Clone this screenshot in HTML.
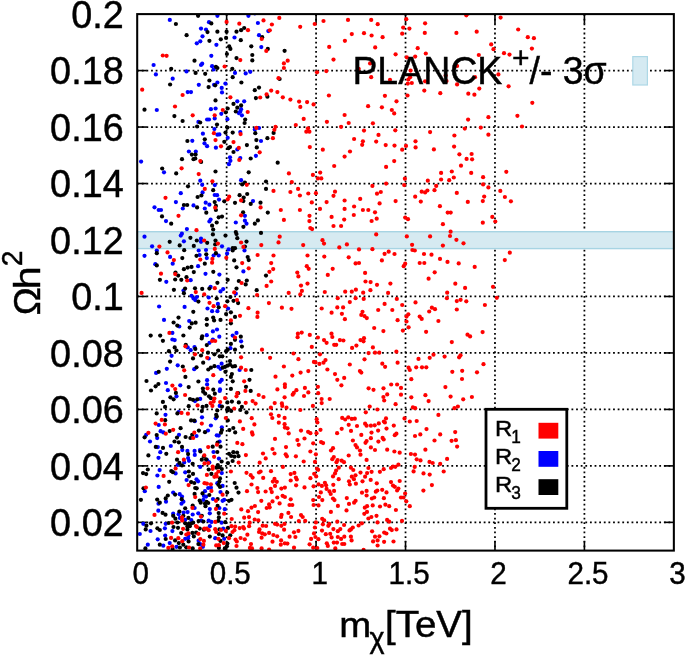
<!DOCTYPE html>
<html><head><meta charset="utf-8"><title>plot</title>
<style>
html,body{margin:0;padding:0;background:#fff;}
body{width:685px;height:655px;overflow:hidden;font-family:"Liberation Sans",sans-serif;}
svg{display:block;will-change:transform;font-family:"Liberation Sans",sans-serif;}
.g{stroke:#000;stroke-width:1.75;stroke-dasharray:1.8 2.82;fill:none}
.t{stroke:#000;stroke-width:1.6;fill:none}
</style></head><body>
<svg width="685" height="655" viewBox="0 0 685 655">
<rect width="685" height="655" fill="#fff"/>

<g class="g">
<line x1="226.64" y1="14.1" x2="226.64" y2="550.6"/>
<line x1="316.08" y1="14.1" x2="316.08" y2="550.6"/>
<line x1="405.53" y1="14.1" x2="405.53" y2="550.6"/>
<line x1="494.97" y1="14.1" x2="494.97" y2="550.6"/>
<line x1="584.41" y1="14.1" x2="584.41" y2="550.6"/>
<line x1="137.2" y1="522.36" x2="673.85" y2="522.36"/>
<line x1="137.2" y1="465.89" x2="673.85" y2="465.89"/>
<line x1="137.2" y1="409.42" x2="673.85" y2="409.42"/>
<line x1="137.2" y1="352.94" x2="673.85" y2="352.94"/>
<line x1="137.2" y1="296.47" x2="673.85" y2="296.47"/>
<line x1="137.2" y1="239.99" x2="673.85" y2="239.99"/>
<line x1="137.2" y1="183.52" x2="673.85" y2="183.52"/>
<line x1="137.2" y1="127.05" x2="673.85" y2="127.05"/>
<line x1="137.2" y1="70.57" x2="673.85" y2="70.57"/>
</g>
<g class="t">
<line x1="226.64" y1="550.6" x2="226.64" y2="541.0"/>
<line x1="226.64" y1="14.1" x2="226.64" y2="23.7"/>
<line x1="316.08" y1="550.6" x2="316.08" y2="541.0"/>
<line x1="316.08" y1="14.1" x2="316.08" y2="23.7"/>
<line x1="405.53" y1="550.6" x2="405.53" y2="541.0"/>
<line x1="405.53" y1="14.1" x2="405.53" y2="23.7"/>
<line x1="494.97" y1="550.6" x2="494.97" y2="541.0"/>
<line x1="494.97" y1="14.1" x2="494.97" y2="23.7"/>
<line x1="584.41" y1="550.6" x2="584.41" y2="541.0"/>
<line x1="584.41" y1="14.1" x2="584.41" y2="23.7"/>
<line x1="137.2" y1="522.36" x2="146.79999999999998" y2="522.36"/>
<line x1="673.85" y1="522.36" x2="664.25" y2="522.36"/>
<line x1="137.2" y1="465.89" x2="146.79999999999998" y2="465.89"/>
<line x1="673.85" y1="465.89" x2="664.25" y2="465.89"/>
<line x1="137.2" y1="409.42" x2="146.79999999999998" y2="409.42"/>
<line x1="673.85" y1="409.42" x2="664.25" y2="409.42"/>
<line x1="137.2" y1="352.94" x2="146.79999999999998" y2="352.94"/>
<line x1="673.85" y1="352.94" x2="664.25" y2="352.94"/>
<line x1="137.2" y1="296.47" x2="146.79999999999998" y2="296.47"/>
<line x1="673.85" y1="296.47" x2="664.25" y2="296.47"/>
<line x1="137.2" y1="239.99" x2="146.79999999999998" y2="239.99"/>
<line x1="673.85" y1="239.99" x2="664.25" y2="239.99"/>
<line x1="137.2" y1="183.52" x2="146.79999999999998" y2="183.52"/>
<line x1="673.85" y1="183.52" x2="664.25" y2="183.52"/>
<line x1="137.2" y1="127.05" x2="146.79999999999998" y2="127.05"/>
<line x1="673.85" y1="127.05" x2="664.25" y2="127.05"/>
<line x1="137.2" y1="70.57" x2="146.79999999999998" y2="70.57"/>
<line x1="673.85" y1="70.57" x2="664.25" y2="70.57"/>
</g>
<rect x="137.2" y="231.7" width="536.7" height="16.9" fill="#d6eaf1" stroke="#a7d4e3" stroke-width="1.4"/>
<clipPath id="cp"><rect x="137.2" y="14.1" width="536.7" height="536.5"/></clipPath>
<g id="pts" clip-path="url(#cp)">
<g fill="#0000ff">
<circle cx="169.8" cy="19.9" r="2.1"/>
<circle cx="217.4" cy="15.8" r="2.1"/>
<circle cx="209.0" cy="22.2" r="2.1"/>
<circle cx="201.0" cy="28.6" r="2.1"/>
<circle cx="206.0" cy="29.5" r="2.1"/>
<circle cx="202.5" cy="36.3" r="2.1"/>
<circle cx="200.3" cy="41.3" r="2.1"/>
<circle cx="196.8" cy="43.3" r="2.1"/>
<circle cx="216.4" cy="44.8" r="2.1"/>
<circle cx="211.3" cy="55.8" r="2.1"/>
<circle cx="202.2" cy="63.7" r="2.1"/>
<circle cx="201.0" cy="65.0" r="2.1"/>
<circle cx="153.6" cy="65.0" r="2.1"/>
<circle cx="212.1" cy="66.2" r="2.1"/>
<circle cx="213.6" cy="69.5" r="2.1"/>
<circle cx="186.5" cy="71.4" r="2.1"/>
<circle cx="155.9" cy="74.4" r="2.1"/>
<circle cx="172.7" cy="78.7" r="2.1"/>
<circle cx="198.8" cy="84.8" r="2.1"/>
<circle cx="217.4" cy="82.5" r="2.1"/>
<circle cx="214.1" cy="84.8" r="2.1"/>
<circle cx="225.4" cy="83.6" r="2.1"/>
<circle cx="221.7" cy="87.9" r="2.1"/>
<circle cx="222.0" cy="92.4" r="2.1"/>
<circle cx="187.7" cy="92.1" r="2.1"/>
<circle cx="191.0" cy="92.1" r="2.1"/>
<circle cx="210.9" cy="109.2" r="2.1"/>
<circle cx="215.6" cy="108.5" r="2.1"/>
<circle cx="156.8" cy="110.0" r="2.1"/>
<circle cx="234.5" cy="37.5" r="2.1"/>
<circle cx="235.0" cy="72.9" r="2.1"/>
<circle cx="254.8" cy="13.4" r="2.1"/>
<circle cx="248.4" cy="15.8" r="2.1"/>
<circle cx="257.9" cy="23.0" r="2.1"/>
<circle cx="268.3" cy="31.1" r="2.1"/>
<circle cx="259.0" cy="35.2" r="2.1"/>
<circle cx="261.3" cy="47.1" r="2.1"/>
<circle cx="245.7" cy="73.4" r="2.1"/>
<circle cx="250.3" cy="71.8" r="2.1"/>
<circle cx="237.3" cy="101.3" r="2.1"/>
<circle cx="244.2" cy="101.3" r="2.1"/>
<circle cx="241.1" cy="109.2" r="2.1"/>
<circle cx="221.3" cy="113.8" r="2.1"/>
<circle cx="207.1" cy="119.5" r="2.1"/>
<circle cx="209.0" cy="119.5" r="2.1"/>
<circle cx="198.4" cy="121.9" r="2.1"/>
<circle cx="214.7" cy="118.4" r="2.1"/>
<circle cx="227.4" cy="119.2" r="2.1"/>
<circle cx="214.4" cy="129.1" r="2.1"/>
<circle cx="202.9" cy="133.7" r="2.1"/>
<circle cx="217.4" cy="134.7" r="2.1"/>
<circle cx="219.4" cy="134.4" r="2.1"/>
<circle cx="227.7" cy="137.8" r="2.1"/>
<circle cx="192.3" cy="140.8" r="2.1"/>
<circle cx="204.5" cy="143.3" r="2.1"/>
<circle cx="207.1" cy="146.2" r="2.1"/>
<circle cx="215.9" cy="147.7" r="2.1"/>
<circle cx="188.9" cy="151.5" r="2.1"/>
<circle cx="195.8" cy="151.5" r="2.1"/>
<circle cx="141.1" cy="161.6" r="2.1"/>
<circle cx="230.0" cy="157.3" r="2.1"/>
<circle cx="230.4" cy="160.8" r="2.1"/>
<circle cx="228.9" cy="164.2" r="2.1"/>
<circle cx="164.0" cy="172.3" r="2.1"/>
<circle cx="200.3" cy="180.7" r="2.1"/>
<circle cx="202.2" cy="184.8" r="2.1"/>
<circle cx="214.8" cy="185.1" r="2.1"/>
<circle cx="180.8" cy="193.2" r="2.1"/>
<circle cx="202.6" cy="192.4" r="2.1"/>
<circle cx="214.7" cy="195.0" r="2.1"/>
<circle cx="217.1" cy="195.2" r="2.1"/>
<circle cx="219.0" cy="199.6" r="2.1"/>
<circle cx="175.9" cy="202.1" r="2.1"/>
<circle cx="205.7" cy="202.7" r="2.1"/>
<circle cx="209.4" cy="204.7" r="2.1"/>
<circle cx="193.5" cy="205.4" r="2.1"/>
<circle cx="154.5" cy="207.3" r="2.1"/>
<circle cx="182.8" cy="208.5" r="2.1"/>
<circle cx="204.8" cy="208.5" r="2.1"/>
<circle cx="158.7" cy="210.0" r="2.1"/>
<circle cx="161.0" cy="210.0" r="2.1"/>
<circle cx="240.3" cy="111.5" r="2.1"/>
<circle cx="241.9" cy="115.3" r="2.1"/>
<circle cx="238.8" cy="113.1" r="2.1"/>
<circle cx="259.0" cy="128.0" r="2.1"/>
<circle cx="254.8" cy="129.4" r="2.1"/>
<circle cx="240.3" cy="132.1" r="2.1"/>
<circle cx="261.0" cy="141.0" r="2.1"/>
<circle cx="237.3" cy="149.4" r="2.1"/>
<circle cx="255.9" cy="155.8" r="2.1"/>
<circle cx="240.3" cy="158.1" r="2.1"/>
<circle cx="241.1" cy="180.2" r="2.1"/>
<circle cx="253.0" cy="201.1" r="2.1"/>
<circle cx="166.0" cy="221.1" r="2.1"/>
<circle cx="210.6" cy="219.6" r="2.1"/>
<circle cx="209.4" cy="221.5" r="2.1"/>
<circle cx="186.9" cy="229.1" r="2.1"/>
<circle cx="144.5" cy="236.7" r="2.1"/>
<circle cx="181.9" cy="233.7" r="2.1"/>
<circle cx="180.8" cy="235.6" r="2.1"/>
<circle cx="183.9" cy="241.3" r="2.1"/>
<circle cx="201.0" cy="238.7" r="2.1"/>
<circle cx="201.0" cy="241.8" r="2.1"/>
<circle cx="152.1" cy="246.3" r="2.1"/>
<circle cx="156.8" cy="250.5" r="2.1"/>
<circle cx="144.5" cy="255.8" r="2.1"/>
<circle cx="222.0" cy="246.3" r="2.1"/>
<circle cx="206.0" cy="250.0" r="2.1"/>
<circle cx="198.7" cy="250.5" r="2.1"/>
<circle cx="228.6" cy="249.4" r="2.1"/>
<circle cx="227.1" cy="253.5" r="2.1"/>
<circle cx="199.6" cy="255.0" r="2.1"/>
<circle cx="206.8" cy="258.1" r="2.1"/>
<circle cx="170.1" cy="256.9" r="2.1"/>
<circle cx="213.6" cy="255.5" r="2.1"/>
<circle cx="218.7" cy="255.5" r="2.1"/>
<circle cx="172.7" cy="263.7" r="2.1"/>
<circle cx="155.3" cy="264.2" r="2.1"/>
<circle cx="198.1" cy="266.2" r="2.1"/>
<circle cx="205.5" cy="273.8" r="2.1"/>
<circle cx="219.4" cy="274.6" r="2.1"/>
<circle cx="166.3" cy="281.8" r="2.1"/>
<circle cx="190.7" cy="280.2" r="2.1"/>
<circle cx="210.6" cy="286.8" r="2.1"/>
<circle cx="223.2" cy="289.1" r="2.1"/>
<circle cx="220.5" cy="291.4" r="2.1"/>
<circle cx="183.5" cy="290.6" r="2.1"/>
<circle cx="191.5" cy="295.8" r="2.1"/>
<circle cx="196.8" cy="297.0" r="2.1"/>
<circle cx="193.5" cy="298.5" r="2.1"/>
<circle cx="195.3" cy="300.1" r="2.1"/>
<circle cx="208.7" cy="297.5" r="2.1"/>
<circle cx="217.9" cy="303.9" r="2.1"/>
<circle cx="159.1" cy="306.5" r="2.1"/>
<circle cx="184.6" cy="306.9" r="2.1"/>
<circle cx="207.5" cy="308.5" r="2.1"/>
<circle cx="228.1" cy="308.5" r="2.1"/>
<circle cx="244.9" cy="215.8" r="2.1"/>
<circle cx="244.9" cy="220.7" r="2.1"/>
<circle cx="246.5" cy="223.7" r="2.1"/>
<circle cx="235.8" cy="222.5" r="2.1"/>
<circle cx="244.5" cy="250.5" r="2.1"/>
<circle cx="243.4" cy="271.4" r="2.1"/>
<circle cx="235.8" cy="293.7" r="2.1"/>
<circle cx="164.0" cy="319.9" r="2.1"/>
<circle cx="189.2" cy="321.0" r="2.1"/>
<circle cx="179.3" cy="326.5" r="2.1"/>
<circle cx="212.1" cy="311.2" r="2.1"/>
<circle cx="217.4" cy="311.2" r="2.1"/>
<circle cx="172.4" cy="332.9" r="2.1"/>
<circle cx="217.0" cy="329.5" r="2.1"/>
<circle cx="212.9" cy="331.4" r="2.1"/>
<circle cx="206.8" cy="335.2" r="2.1"/>
<circle cx="219.3" cy="336.7" r="2.1"/>
<circle cx="232.7" cy="335.6" r="2.1"/>
<circle cx="172.4" cy="339.5" r="2.1"/>
<circle cx="174.7" cy="340.1" r="2.1"/>
<circle cx="212.9" cy="339.5" r="2.1"/>
<circle cx="209.5" cy="342.8" r="2.1"/>
<circle cx="187.7" cy="347.4" r="2.1"/>
<circle cx="194.5" cy="347.1" r="2.1"/>
<circle cx="190.7" cy="350.2" r="2.1"/>
<circle cx="230.4" cy="348.2" r="2.1"/>
<circle cx="171.6" cy="355.8" r="2.1"/>
<circle cx="208.7" cy="358.5" r="2.1"/>
<circle cx="177.7" cy="365.3" r="2.1"/>
<circle cx="166.8" cy="368.8" r="2.1"/>
<circle cx="194.2" cy="369.2" r="2.1"/>
<circle cx="221.6" cy="363.7" r="2.1"/>
<circle cx="218.2" cy="366.8" r="2.1"/>
<circle cx="220.5" cy="368.8" r="2.1"/>
<circle cx="156.1" cy="372.9" r="2.1"/>
<circle cx="207.1" cy="380.2" r="2.1"/>
<circle cx="221.7" cy="379.9" r="2.1"/>
<circle cx="220.0" cy="381.8" r="2.1"/>
<circle cx="207.1" cy="384.4" r="2.1"/>
<circle cx="166.0" cy="383.0" r="2.1"/>
<circle cx="180.3" cy="385.3" r="2.1"/>
<circle cx="167.8" cy="390.2" r="2.1"/>
<circle cx="220.0" cy="389.4" r="2.1"/>
<circle cx="219.7" cy="390.9" r="2.1"/>
<circle cx="176.5" cy="396.3" r="2.1"/>
<circle cx="200.2" cy="398.9" r="2.1"/>
<circle cx="195.0" cy="401.1" r="2.1"/>
<circle cx="219.7" cy="405.9" r="2.1"/>
<circle cx="236.5" cy="332.9" r="2.1"/>
<circle cx="241.1" cy="341.3" r="2.1"/>
<circle cx="239.6" cy="370.0" r="2.1"/>
<circle cx="165.5" cy="414.8" r="2.1"/>
<circle cx="178.6" cy="412.1" r="2.1"/>
<circle cx="202.0" cy="417.3" r="2.1"/>
<circle cx="194.8" cy="421.2" r="2.1"/>
<circle cx="158.7" cy="425.0" r="2.1"/>
<circle cx="160.6" cy="431.2" r="2.1"/>
<circle cx="163.3" cy="432.4" r="2.1"/>
<circle cx="146.2" cy="434.8" r="2.1"/>
<circle cx="179.0" cy="434.8" r="2.1"/>
<circle cx="196.5" cy="436.0" r="2.1"/>
<circle cx="157.2" cy="438.1" r="2.1"/>
<circle cx="150.0" cy="441.5" r="2.1"/>
<circle cx="170.8" cy="446.0" r="2.1"/>
<circle cx="157.8" cy="447.1" r="2.1"/>
<circle cx="182.3" cy="450.1" r="2.1"/>
<circle cx="187.4" cy="450.9" r="2.1"/>
<circle cx="194.6" cy="450.9" r="2.1"/>
<circle cx="200.0" cy="450.1" r="2.1"/>
<circle cx="160.3" cy="452.2" r="2.1"/>
<circle cx="194.8" cy="454.9" r="2.1"/>
<circle cx="158.5" cy="457.8" r="2.1"/>
<circle cx="188.1" cy="458.1" r="2.1"/>
<circle cx="189.0" cy="460.8" r="2.1"/>
<circle cx="184.2" cy="462.4" r="2.1"/>
<circle cx="177.7" cy="465.0" r="2.1"/>
<circle cx="200.2" cy="466.9" r="2.1"/>
<circle cx="159.6" cy="470.1" r="2.1"/>
<circle cx="185.2" cy="472.3" r="2.1"/>
<circle cx="175.6" cy="473.4" r="2.1"/>
<circle cx="157.4" cy="475.5" r="2.1"/>
<circle cx="196.5" cy="479.3" r="2.1"/>
<circle cx="186.6" cy="480.0" r="2.1"/>
<circle cx="215.7" cy="418.3" r="2.1"/>
<circle cx="210.9" cy="425.5" r="2.1"/>
<circle cx="221.8" cy="427.3" r="2.1"/>
<circle cx="208.0" cy="430.5" r="2.1"/>
<circle cx="216.8" cy="435.3" r="2.1"/>
<circle cx="218.7" cy="435.6" r="2.1"/>
<circle cx="219.6" cy="441.5" r="2.1"/>
<circle cx="213.5" cy="452.0" r="2.1"/>
<circle cx="218.9" cy="458.6" r="2.1"/>
<circle cx="209.3" cy="462.4" r="2.1"/>
<circle cx="221.8" cy="473.1" r="2.1"/>
<circle cx="207.1" cy="460.2" r="2.1"/>
<circle cx="198.1" cy="481.3" r="2.1"/>
<circle cx="158.7" cy="486.9" r="2.1"/>
<circle cx="144.8" cy="491.2" r="2.1"/>
<circle cx="173.2" cy="492.6" r="2.1"/>
<circle cx="179.7" cy="494.2" r="2.1"/>
<circle cx="182.0" cy="496.6" r="2.1"/>
<circle cx="166.0" cy="501.7" r="2.1"/>
<circle cx="183.4" cy="501.7" r="2.1"/>
<circle cx="181.5" cy="503.7" r="2.1"/>
<circle cx="158.5" cy="503.7" r="2.1"/>
<circle cx="203.9" cy="496.0" r="2.1"/>
<circle cx="203.4" cy="499.8" r="2.1"/>
<circle cx="194.6" cy="508.0" r="2.1"/>
<circle cx="158.3" cy="510.7" r="2.1"/>
<circle cx="173.2" cy="513.7" r="2.1"/>
<circle cx="178.6" cy="514.2" r="2.1"/>
<circle cx="183.6" cy="512.6" r="2.1"/>
<circle cx="187.6" cy="512.1" r="2.1"/>
<circle cx="192.7" cy="514.5" r="2.1"/>
<circle cx="198.3" cy="513.3" r="2.1"/>
<circle cx="179.9" cy="517.9" r="2.1"/>
<circle cx="185.2" cy="519.8" r="2.1"/>
<circle cx="191.3" cy="520.1" r="2.1"/>
<circle cx="143.3" cy="523.8" r="2.1"/>
<circle cx="165.7" cy="523.8" r="2.1"/>
<circle cx="201.3" cy="520.6" r="2.1"/>
<circle cx="164.9" cy="528.3" r="2.1"/>
<circle cx="150.5" cy="531.0" r="2.1"/>
<circle cx="172.4" cy="531.1" r="2.1"/>
<circle cx="139.8" cy="534.0" r="2.1"/>
<circle cx="165.2" cy="535.6" r="2.1"/>
<circle cx="157.7" cy="539.3" r="2.1"/>
<circle cx="185.2" cy="538.8" r="2.1"/>
<circle cx="188.1" cy="538.2" r="2.1"/>
<circle cx="188.4" cy="535.6" r="2.1"/>
<circle cx="169.7" cy="543.1" r="2.1"/>
<circle cx="147.8" cy="544.7" r="2.1"/>
<circle cx="163.3" cy="545.7" r="2.1"/>
<circle cx="176.5" cy="546.8" r="2.1"/>
<circle cx="198.6" cy="540.7" r="2.1"/>
<circle cx="200.2" cy="544.1" r="2.1"/>
<circle cx="202.9" cy="546.8" r="2.1"/>
<circle cx="217.3" cy="483.2" r="2.1"/>
<circle cx="222.6" cy="485.9" r="2.1"/>
<circle cx="208.2" cy="488.0" r="2.1"/>
<circle cx="210.9" cy="487.7" r="2.1"/>
<circle cx="205.0" cy="491.2" r="2.1"/>
<circle cx="220.5" cy="492.0" r="2.1"/>
<circle cx="206.1" cy="496.6" r="2.1"/>
<circle cx="213.0" cy="499.0" r="2.1"/>
<circle cx="222.6" cy="500.8" r="2.1"/>
<circle cx="224.2" cy="499.8" r="2.1"/>
<circle cx="209.8" cy="509.1" r="2.1"/>
<circle cx="219.4" cy="508.0" r="2.1"/>
<circle cx="224.8" cy="509.2" r="2.1"/>
<circle cx="209.8" cy="513.3" r="2.1"/>
<circle cx="208.7" cy="520.6" r="2.1"/>
<circle cx="211.4" cy="521.9" r="2.1"/>
<circle cx="221.6" cy="522.7" r="2.1"/>
<circle cx="209.8" cy="526.2" r="2.1"/>
<circle cx="223.2" cy="528.6" r="2.1"/>
<circle cx="215.2" cy="538.2" r="2.1"/>
<circle cx="224.2" cy="538.8" r="2.1"/>
</g>
<g fill="#000000">
<circle cx="198.1" cy="15.8" r="2.1"/>
<circle cx="175.9" cy="24.0" r="2.1"/>
<circle cx="211.3" cy="23.4" r="2.1"/>
<circle cx="207.5" cy="32.1" r="2.1"/>
<circle cx="217.4" cy="31.7" r="2.1"/>
<circle cx="226.6" cy="31.7" r="2.1"/>
<circle cx="186.6" cy="35.2" r="2.1"/>
<circle cx="209.4" cy="40.8" r="2.1"/>
<circle cx="220.8" cy="39.3" r="2.1"/>
<circle cx="226.1" cy="37.9" r="2.1"/>
<circle cx="229.2" cy="46.3" r="2.1"/>
<circle cx="230.4" cy="48.9" r="2.1"/>
<circle cx="226.9" cy="54.0" r="2.1"/>
<circle cx="194.5" cy="60.7" r="2.1"/>
<circle cx="215.9" cy="66.8" r="2.1"/>
<circle cx="217.4" cy="68.0" r="2.1"/>
<circle cx="171.2" cy="68.8" r="2.1"/>
<circle cx="195.6" cy="72.9" r="2.1"/>
<circle cx="205.2" cy="73.8" r="2.1"/>
<circle cx="232.3" cy="68.8" r="2.1"/>
<circle cx="232.7" cy="77.2" r="2.1"/>
<circle cx="209.4" cy="80.5" r="2.1"/>
<circle cx="208.6" cy="87.1" r="2.1"/>
<circle cx="215.2" cy="85.3" r="2.1"/>
<circle cx="170.1" cy="84.5" r="2.1"/>
<circle cx="215.5" cy="100.4" r="2.1"/>
<circle cx="144.5" cy="109.7" r="2.1"/>
<circle cx="227.7" cy="108.5" r="2.1"/>
<circle cx="233.5" cy="103.9" r="2.1"/>
<circle cx="244.2" cy="28.0" r="2.1"/>
<circle cx="241.1" cy="30.2" r="2.1"/>
<circle cx="236.5" cy="31.7" r="2.1"/>
<circle cx="240.8" cy="40.2" r="2.1"/>
<circle cx="262.2" cy="37.2" r="2.1"/>
<circle cx="251.3" cy="46.3" r="2.1"/>
<circle cx="267.8" cy="48.9" r="2.1"/>
<circle cx="284.6" cy="50.8" r="2.1"/>
<circle cx="252.3" cy="55.0" r="2.1"/>
<circle cx="236.5" cy="58.1" r="2.1"/>
<circle cx="252.3" cy="60.4" r="2.1"/>
<circle cx="241.4" cy="82.5" r="2.1"/>
<circle cx="279.6" cy="79.0" r="2.1"/>
<circle cx="259.0" cy="87.6" r="2.1"/>
<circle cx="254.8" cy="90.2" r="2.1"/>
<circle cx="255.9" cy="98.1" r="2.1"/>
<circle cx="267.4" cy="96.7" r="2.1"/>
<circle cx="241.1" cy="105.4" r="2.1"/>
<circle cx="237.3" cy="107.7" r="2.1"/>
<circle cx="174.4" cy="116.1" r="2.1"/>
<circle cx="225.8" cy="112.3" r="2.1"/>
<circle cx="182.6" cy="121.0" r="2.1"/>
<circle cx="200.2" cy="122.5" r="2.1"/>
<circle cx="197.1" cy="126.5" r="2.1"/>
<circle cx="217.0" cy="124.5" r="2.1"/>
<circle cx="227.4" cy="127.6" r="2.1"/>
<circle cx="225.5" cy="132.6" r="2.1"/>
<circle cx="232.7" cy="132.6" r="2.1"/>
<circle cx="204.8" cy="139.3" r="2.1"/>
<circle cx="187.4" cy="141.0" r="2.1"/>
<circle cx="224.3" cy="141.8" r="2.1"/>
<circle cx="230.0" cy="147.1" r="2.1"/>
<circle cx="228.4" cy="148.2" r="2.1"/>
<circle cx="233.5" cy="152.0" r="2.1"/>
<circle cx="191.9" cy="154.6" r="2.1"/>
<circle cx="195.6" cy="154.6" r="2.1"/>
<circle cx="193.5" cy="159.2" r="2.1"/>
<circle cx="195.3" cy="158.5" r="2.1"/>
<circle cx="182.0" cy="159.2" r="2.1"/>
<circle cx="201.1" cy="161.9" r="2.1"/>
<circle cx="162.2" cy="168.5" r="2.1"/>
<circle cx="176.2" cy="173.4" r="2.1"/>
<circle cx="215.5" cy="171.5" r="2.1"/>
<circle cx="188.0" cy="186.3" r="2.1"/>
<circle cx="213.2" cy="190.2" r="2.1"/>
<circle cx="201.4" cy="195.5" r="2.1"/>
<circle cx="197.6" cy="197.0" r="2.1"/>
<circle cx="214.7" cy="202.1" r="2.1"/>
<circle cx="224.3" cy="201.3" r="2.1"/>
<circle cx="183.9" cy="205.0" r="2.1"/>
<circle cx="187.2" cy="205.0" r="2.1"/>
<circle cx="197.1" cy="207.4" r="2.1"/>
<circle cx="215.9" cy="205.9" r="2.1"/>
<circle cx="235.0" cy="202.8" r="2.1"/>
<circle cx="235.8" cy="111.5" r="2.1"/>
<circle cx="245.2" cy="119.5" r="2.1"/>
<circle cx="244.6" cy="123.0" r="2.1"/>
<circle cx="255.3" cy="133.2" r="2.1"/>
<circle cx="273.6" cy="132.9" r="2.1"/>
<circle cx="267.4" cy="138.2" r="2.1"/>
<circle cx="256.4" cy="140.1" r="2.1"/>
<circle cx="246.9" cy="145.1" r="2.1"/>
<circle cx="256.8" cy="147.4" r="2.1"/>
<circle cx="250.7" cy="158.5" r="2.1"/>
<circle cx="277.7" cy="162.7" r="2.1"/>
<circle cx="248.7" cy="172.3" r="2.1"/>
<circle cx="244.9" cy="182.5" r="2.1"/>
<circle cx="242.2" cy="184.4" r="2.1"/>
<circle cx="266.0" cy="181.5" r="2.1"/>
<circle cx="266.0" cy="188.9" r="2.1"/>
<circle cx="247.2" cy="194.0" r="2.1"/>
<circle cx="239.6" cy="195.2" r="2.1"/>
<circle cx="243.7" cy="197.5" r="2.1"/>
<circle cx="243.4" cy="201.1" r="2.1"/>
<circle cx="250.7" cy="203.9" r="2.1"/>
<circle cx="260.5" cy="202.7" r="2.1"/>
<circle cx="215.9" cy="210.0" r="2.1"/>
<circle cx="206.3" cy="212.7" r="2.1"/>
<circle cx="162.0" cy="216.4" r="2.1"/>
<circle cx="222.0" cy="216.6" r="2.1"/>
<circle cx="218.7" cy="217.3" r="2.1"/>
<circle cx="171.2" cy="223.7" r="2.1"/>
<circle cx="216.7" cy="222.5" r="2.1"/>
<circle cx="212.1" cy="225.7" r="2.1"/>
<circle cx="213.2" cy="229.5" r="2.1"/>
<circle cx="212.9" cy="234.4" r="2.1"/>
<circle cx="225.5" cy="235.6" r="2.1"/>
<circle cx="190.4" cy="237.8" r="2.1"/>
<circle cx="196.8" cy="240.5" r="2.1"/>
<circle cx="215.5" cy="240.5" r="2.1"/>
<circle cx="169.7" cy="241.8" r="2.1"/>
<circle cx="207.2" cy="242.8" r="2.1"/>
<circle cx="179.7" cy="245.4" r="2.1"/>
<circle cx="193.8" cy="245.9" r="2.1"/>
<circle cx="215.2" cy="244.4" r="2.1"/>
<circle cx="184.2" cy="250.2" r="2.1"/>
<circle cx="232.7" cy="250.5" r="2.1"/>
<circle cx="156.8" cy="253.2" r="2.1"/>
<circle cx="206.3" cy="254.3" r="2.1"/>
<circle cx="215.9" cy="253.2" r="2.1"/>
<circle cx="196.5" cy="255.8" r="2.1"/>
<circle cx="182.3" cy="258.1" r="2.1"/>
<circle cx="234.2" cy="260.4" r="2.1"/>
<circle cx="204.8" cy="263.7" r="2.1"/>
<circle cx="156.8" cy="265.4" r="2.1"/>
<circle cx="187.7" cy="267.6" r="2.1"/>
<circle cx="191.5" cy="266.9" r="2.1"/>
<circle cx="183.9" cy="269.2" r="2.1"/>
<circle cx="175.5" cy="272.6" r="2.1"/>
<circle cx="193.8" cy="272.1" r="2.1"/>
<circle cx="213.3" cy="271.8" r="2.1"/>
<circle cx="178.2" cy="275.6" r="2.1"/>
<circle cx="186.5" cy="277.2" r="2.1"/>
<circle cx="159.9" cy="279.8" r="2.1"/>
<circle cx="175.2" cy="279.5" r="2.1"/>
<circle cx="181.3" cy="279.8" r="2.1"/>
<circle cx="227.7" cy="279.8" r="2.1"/>
<circle cx="217.4" cy="282.8" r="2.1"/>
<circle cx="185.1" cy="288.6" r="2.1"/>
<circle cx="195.0" cy="288.3" r="2.1"/>
<circle cx="202.2" cy="288.9" r="2.1"/>
<circle cx="209.4" cy="288.6" r="2.1"/>
<circle cx="173.9" cy="289.8" r="2.1"/>
<circle cx="183.9" cy="293.2" r="2.1"/>
<circle cx="216.7" cy="298.5" r="2.1"/>
<circle cx="198.4" cy="301.6" r="2.1"/>
<circle cx="230.4" cy="297.0" r="2.1"/>
<circle cx="227.4" cy="301.3" r="2.1"/>
<circle cx="233.5" cy="300.8" r="2.1"/>
<circle cx="218.7" cy="307.3" r="2.1"/>
<circle cx="232.7" cy="248.2" r="2.1"/>
<circle cx="243.1" cy="212.3" r="2.1"/>
<circle cx="267.8" cy="212.6" r="2.1"/>
<circle cx="257.9" cy="220.4" r="2.1"/>
<circle cx="254.8" cy="223.7" r="2.1"/>
<circle cx="243.4" cy="226.8" r="2.1"/>
<circle cx="235.8" cy="232.1" r="2.1"/>
<circle cx="236.5" cy="234.1" r="2.1"/>
<circle cx="261.0" cy="232.9" r="2.1"/>
<circle cx="237.3" cy="238.2" r="2.1"/>
<circle cx="246.5" cy="241.6" r="2.1"/>
<circle cx="244.9" cy="246.6" r="2.1"/>
<circle cx="235.0" cy="248.2" r="2.1"/>
<circle cx="247.7" cy="257.0" r="2.1"/>
<circle cx="248.7" cy="260.1" r="2.1"/>
<circle cx="236.5" cy="267.3" r="2.1"/>
<circle cx="266.0" cy="275.6" r="2.1"/>
<circle cx="238.8" cy="281.0" r="2.1"/>
<circle cx="246.8" cy="280.5" r="2.1"/>
<circle cx="245.7" cy="284.4" r="2.1"/>
<circle cx="236.5" cy="288.6" r="2.1"/>
<circle cx="256.7" cy="290.2" r="2.1"/>
<circle cx="238.1" cy="303.1" r="2.1"/>
<circle cx="193.3" cy="311.8" r="2.1"/>
<circle cx="178.5" cy="317.6" r="2.1"/>
<circle cx="173.6" cy="322.5" r="2.1"/>
<circle cx="177.3" cy="325.6" r="2.1"/>
<circle cx="191.8" cy="323.4" r="2.1"/>
<circle cx="195.6" cy="322.7" r="2.1"/>
<circle cx="189.7" cy="327.6" r="2.1"/>
<circle cx="206.8" cy="319.2" r="2.1"/>
<circle cx="206.8" cy="324.8" r="2.1"/>
<circle cx="213.2" cy="317.6" r="2.1"/>
<circle cx="214.1" cy="320.4" r="2.1"/>
<circle cx="220.5" cy="319.9" r="2.1"/>
<circle cx="226.1" cy="314.1" r="2.1"/>
<circle cx="230.9" cy="312.3" r="2.1"/>
<circle cx="230.9" cy="323.3" r="2.1"/>
<circle cx="235.0" cy="316.9" r="2.1"/>
<circle cx="150.7" cy="335.6" r="2.1"/>
<circle cx="160.2" cy="335.6" r="2.1"/>
<circle cx="183.4" cy="335.5" r="2.1"/>
<circle cx="162.9" cy="340.8" r="2.1"/>
<circle cx="202.2" cy="336.3" r="2.1"/>
<circle cx="201.7" cy="338.5" r="2.1"/>
<circle cx="185.8" cy="344.8" r="2.1"/>
<circle cx="206.8" cy="345.1" r="2.1"/>
<circle cx="230.9" cy="343.9" r="2.1"/>
<circle cx="174.7" cy="347.4" r="2.1"/>
<circle cx="176.5" cy="350.5" r="2.1"/>
<circle cx="168.9" cy="351.2" r="2.1"/>
<circle cx="195.3" cy="348.9" r="2.1"/>
<circle cx="218.2" cy="350.5" r="2.1"/>
<circle cx="226.1" cy="351.2" r="2.1"/>
<circle cx="227.7" cy="349.7" r="2.1"/>
<circle cx="208.0" cy="352.7" r="2.1"/>
<circle cx="201.0" cy="355.5" r="2.1"/>
<circle cx="214.4" cy="354.3" r="2.1"/>
<circle cx="219.7" cy="356.3" r="2.1"/>
<circle cx="222.3" cy="356.3" r="2.1"/>
<circle cx="193.0" cy="358.4" r="2.1"/>
<circle cx="170.1" cy="361.6" r="2.1"/>
<circle cx="203.2" cy="362.7" r="2.1"/>
<circle cx="230.0" cy="361.1" r="2.1"/>
<circle cx="182.8" cy="366.5" r="2.1"/>
<circle cx="196.5" cy="367.3" r="2.1"/>
<circle cx="208.3" cy="369.5" r="2.1"/>
<circle cx="210.9" cy="367.7" r="2.1"/>
<circle cx="214.4" cy="366.2" r="2.1"/>
<circle cx="222.8" cy="367.7" r="2.1"/>
<circle cx="225.1" cy="366.8" r="2.1"/>
<circle cx="227.4" cy="365.7" r="2.1"/>
<circle cx="230.0" cy="364.7" r="2.1"/>
<circle cx="232.7" cy="366.5" r="2.1"/>
<circle cx="225.4" cy="371.8" r="2.1"/>
<circle cx="231.9" cy="374.1" r="2.1"/>
<circle cx="230.9" cy="376.9" r="2.1"/>
<circle cx="158.7" cy="371.8" r="2.1"/>
<circle cx="185.4" cy="376.9" r="2.1"/>
<circle cx="146.5" cy="381.0" r="2.1"/>
<circle cx="198.4" cy="381.5" r="2.1"/>
<circle cx="232.7" cy="381.3" r="2.1"/>
<circle cx="158.4" cy="384.0" r="2.1"/>
<circle cx="155.6" cy="386.3" r="2.1"/>
<circle cx="188.7" cy="387.1" r="2.1"/>
<circle cx="151.0" cy="390.5" r="2.1"/>
<circle cx="202.9" cy="388.6" r="2.1"/>
<circle cx="213.3" cy="389.7" r="2.1"/>
<circle cx="203.2" cy="391.7" r="2.1"/>
<circle cx="205.2" cy="393.7" r="2.1"/>
<circle cx="214.8" cy="393.7" r="2.1"/>
<circle cx="230.9" cy="388.9" r="2.1"/>
<circle cx="175.9" cy="392.9" r="2.1"/>
<circle cx="170.4" cy="397.3" r="2.1"/>
<circle cx="173.6" cy="399.3" r="2.1"/>
<circle cx="209.0" cy="396.3" r="2.1"/>
<circle cx="210.9" cy="398.2" r="2.1"/>
<circle cx="162.9" cy="401.9" r="2.1"/>
<circle cx="190.0" cy="399.0" r="2.1"/>
<circle cx="193.0" cy="399.8" r="2.1"/>
<circle cx="197.3" cy="399.3" r="2.1"/>
<circle cx="227.4" cy="402.4" r="2.1"/>
<circle cx="231.9" cy="401.6" r="2.1"/>
<circle cx="165.1" cy="406.9" r="2.1"/>
<circle cx="188.7" cy="406.2" r="2.1"/>
<circle cx="202.6" cy="406.9" r="2.1"/>
<circle cx="206.5" cy="405.9" r="2.1"/>
<circle cx="222.0" cy="406.6" r="2.1"/>
<circle cx="228.1" cy="408.2" r="2.1"/>
<circle cx="240.8" cy="336.7" r="2.1"/>
<circle cx="241.9" cy="346.6" r="2.1"/>
<circle cx="235.0" cy="339.8" r="2.1"/>
<circle cx="235.0" cy="349.7" r="2.1"/>
<circle cx="235.0" cy="366.2" r="2.1"/>
<circle cx="251.3" cy="370.0" r="2.1"/>
<circle cx="249.5" cy="379.8" r="2.1"/>
<circle cx="246.0" cy="386.8" r="2.1"/>
<circle cx="250.7" cy="390.9" r="2.1"/>
<circle cx="238.1" cy="393.2" r="2.1"/>
<circle cx="238.8" cy="402.4" r="2.1"/>
<circle cx="241.9" cy="406.9" r="2.1"/>
<circle cx="156.7" cy="413.4" r="2.1"/>
<circle cx="177.4" cy="413.4" r="2.1"/>
<circle cx="201.8" cy="411.1" r="2.1"/>
<circle cx="165.2" cy="420.2" r="2.1"/>
<circle cx="191.1" cy="420.4" r="2.1"/>
<circle cx="194.3" cy="420.7" r="2.1"/>
<circle cx="180.6" cy="428.2" r="2.1"/>
<circle cx="169.7" cy="431.1" r="2.1"/>
<circle cx="198.9" cy="430.6" r="2.1"/>
<circle cx="205.0" cy="432.2" r="2.1"/>
<circle cx="156.7" cy="435.1" r="2.1"/>
<circle cx="144.6" cy="437.3" r="2.1"/>
<circle cx="177.0" cy="437.6" r="2.1"/>
<circle cx="185.6" cy="437.0" r="2.1"/>
<circle cx="192.2" cy="434.8" r="2.1"/>
<circle cx="190.4" cy="438.0" r="2.1"/>
<circle cx="174.5" cy="441.5" r="2.1"/>
<circle cx="178.8" cy="442.3" r="2.1"/>
<circle cx="155.8" cy="446.9" r="2.1"/>
<circle cx="163.0" cy="447.9" r="2.1"/>
<circle cx="182.0" cy="446.9" r="2.1"/>
<circle cx="166.3" cy="453.8" r="2.1"/>
<circle cx="148.4" cy="455.4" r="2.1"/>
<circle cx="188.1" cy="454.1" r="2.1"/>
<circle cx="200.4" cy="451.5" r="2.1"/>
<circle cx="177.0" cy="459.7" r="2.1"/>
<circle cx="201.8" cy="459.7" r="2.1"/>
<circle cx="203.9" cy="456.5" r="2.1"/>
<circle cx="179.4" cy="462.9" r="2.1"/>
<circle cx="182.0" cy="465.4" r="2.1"/>
<circle cx="192.7" cy="463.8" r="2.1"/>
<circle cx="147.8" cy="469.5" r="2.1"/>
<circle cx="143.0" cy="473.1" r="2.1"/>
<circle cx="146.2" cy="474.1" r="2.1"/>
<circle cx="171.3" cy="471.1" r="2.1"/>
<circle cx="172.9" cy="472.2" r="2.1"/>
<circle cx="188.8" cy="471.5" r="2.1"/>
<circle cx="193.0" cy="473.9" r="2.1"/>
<circle cx="189.0" cy="476.3" r="2.1"/>
<circle cx="217.3" cy="410.5" r="2.1"/>
<circle cx="227.4" cy="410.5" r="2.1"/>
<circle cx="231.2" cy="410.9" r="2.1"/>
<circle cx="240.3" cy="410.0" r="2.1"/>
<circle cx="246.5" cy="412.4" r="2.1"/>
<circle cx="216.2" cy="414.8" r="2.1"/>
<circle cx="216.8" cy="416.6" r="2.1"/>
<circle cx="227.8" cy="420.4" r="2.1"/>
<circle cx="233.3" cy="428.0" r="2.1"/>
<circle cx="229.4" cy="430.1" r="2.1"/>
<circle cx="235.2" cy="432.4" r="2.1"/>
<circle cx="221.9" cy="430.0" r="2.1"/>
<circle cx="221.0" cy="432.7" r="2.1"/>
<circle cx="217.6" cy="442.6" r="2.1"/>
<circle cx="212.7" cy="446.7" r="2.1"/>
<circle cx="220.5" cy="446.7" r="2.1"/>
<circle cx="217.3" cy="452.0" r="2.1"/>
<circle cx="233.3" cy="452.2" r="2.1"/>
<circle cx="237.1" cy="452.5" r="2.1"/>
<circle cx="229.0" cy="453.8" r="2.1"/>
<circle cx="231.2" cy="456.0" r="2.1"/>
<circle cx="234.4" cy="456.7" r="2.1"/>
<circle cx="238.5" cy="456.2" r="2.1"/>
<circle cx="232.6" cy="461.0" r="2.1"/>
<circle cx="228.0" cy="463.1" r="2.1"/>
<circle cx="206.1" cy="459.4" r="2.1"/>
<circle cx="221.6" cy="461.5" r="2.1"/>
<circle cx="217.8" cy="465.0" r="2.1"/>
<circle cx="216.5" cy="467.7" r="2.1"/>
<circle cx="218.9" cy="467.2" r="2.1"/>
<circle cx="221.8" cy="469.1" r="2.1"/>
<circle cx="208.7" cy="469.5" r="2.1"/>
<circle cx="211.4" cy="473.9" r="2.1"/>
<circle cx="220.0" cy="478.4" r="2.1"/>
<circle cx="169.2" cy="481.8" r="2.1"/>
<circle cx="191.1" cy="482.1" r="2.1"/>
<circle cx="194.3" cy="483.0" r="2.1"/>
<circle cx="195.2" cy="488.0" r="2.1"/>
<circle cx="196.7" cy="488.3" r="2.1"/>
<circle cx="143.5" cy="488.3" r="2.1"/>
<circle cx="194.6" cy="493.9" r="2.1"/>
<circle cx="202.5" cy="493.4" r="2.1"/>
<circle cx="167.8" cy="495.5" r="2.1"/>
<circle cx="175.1" cy="494.6" r="2.1"/>
<circle cx="165.7" cy="498.4" r="2.1"/>
<circle cx="181.7" cy="499.2" r="2.1"/>
<circle cx="140.9" cy="499.8" r="2.1"/>
<circle cx="157.2" cy="499.6" r="2.1"/>
<circle cx="199.7" cy="500.5" r="2.1"/>
<circle cx="200.7" cy="502.7" r="2.1"/>
<circle cx="159.8" cy="502.7" r="2.1"/>
<circle cx="205.0" cy="503.5" r="2.1"/>
<circle cx="192.7" cy="505.6" r="2.1"/>
<circle cx="185.2" cy="508.3" r="2.1"/>
<circle cx="179.4" cy="511.5" r="2.1"/>
<circle cx="162.6" cy="512.9" r="2.1"/>
<circle cx="165.5" cy="514.7" r="2.1"/>
<circle cx="173.2" cy="515.8" r="2.1"/>
<circle cx="175.4" cy="518.7" r="2.1"/>
<circle cx="183.3" cy="515.8" r="2.1"/>
<circle cx="188.4" cy="517.9" r="2.1"/>
<circle cx="201.8" cy="515.8" r="2.1"/>
<circle cx="203.4" cy="521.5" r="2.1"/>
<circle cx="198.6" cy="521.1" r="2.1"/>
<circle cx="151.0" cy="523.3" r="2.1"/>
<circle cx="168.7" cy="523.0" r="2.1"/>
<circle cx="177.4" cy="522.5" r="2.1"/>
<circle cx="185.2" cy="523.3" r="2.1"/>
<circle cx="188.1" cy="524.1" r="2.1"/>
<circle cx="191.1" cy="523.6" r="2.1"/>
<circle cx="193.2" cy="522.7" r="2.1"/>
<circle cx="146.4" cy="525.7" r="2.1"/>
<circle cx="145.7" cy="529.4" r="2.1"/>
<circle cx="157.4" cy="528.3" r="2.1"/>
<circle cx="159.8" cy="530.0" r="2.1"/>
<circle cx="173.5" cy="527.0" r="2.1"/>
<circle cx="178.0" cy="527.8" r="2.1"/>
<circle cx="187.4" cy="526.5" r="2.1"/>
<circle cx="187.4" cy="529.4" r="2.1"/>
<circle cx="189.8" cy="526.2" r="2.1"/>
<circle cx="199.7" cy="528.6" r="2.1"/>
<circle cx="203.9" cy="529.7" r="2.1"/>
<circle cx="181.2" cy="533.1" r="2.1"/>
<circle cx="192.4" cy="532.9" r="2.1"/>
<circle cx="196.1" cy="532.6" r="2.1"/>
<circle cx="165.7" cy="539.0" r="2.1"/>
<circle cx="175.1" cy="540.4" r="2.1"/>
<circle cx="178.8" cy="543.1" r="2.1"/>
<circle cx="188.6" cy="541.5" r="2.1"/>
<circle cx="193.8" cy="536.4" r="2.1"/>
<circle cx="159.8" cy="544.7" r="2.1"/>
<circle cx="183.3" cy="544.7" r="2.1"/>
<circle cx="179.9" cy="547.5" r="2.1"/>
<circle cx="145.4" cy="548.4" r="2.1"/>
<circle cx="172.6" cy="548.9" r="2.1"/>
<circle cx="192.7" cy="548.4" r="2.1"/>
<circle cx="198.4" cy="544.1" r="2.1"/>
<circle cx="186.3" cy="547.3" r="2.1"/>
<circle cx="219.4" cy="481.6" r="2.1"/>
<circle cx="218.4" cy="484.8" r="2.1"/>
<circle cx="220.0" cy="486.9" r="2.1"/>
<circle cx="234.7" cy="483.0" r="2.1"/>
<circle cx="236.5" cy="487.7" r="2.1"/>
<circle cx="238.5" cy="492.6" r="2.1"/>
<circle cx="227.2" cy="492.6" r="2.1"/>
<circle cx="209.3" cy="495.0" r="2.1"/>
<circle cx="217.6" cy="499.0" r="2.1"/>
<circle cx="231.5" cy="499.8" r="2.1"/>
<circle cx="229.0" cy="500.8" r="2.1"/>
<circle cx="206.6" cy="501.9" r="2.1"/>
<circle cx="208.2" cy="503.0" r="2.1"/>
<circle cx="205.5" cy="506.2" r="2.1"/>
<circle cx="217.6" cy="505.9" r="2.1"/>
<circle cx="218.7" cy="513.1" r="2.1"/>
<circle cx="218.9" cy="517.4" r="2.1"/>
<circle cx="218.4" cy="520.8" r="2.1"/>
<circle cx="225.3" cy="522.2" r="2.1"/>
<circle cx="228.0" cy="527.9" r="2.1"/>
<circle cx="219.4" cy="529.4" r="2.1"/>
<circle cx="218.9" cy="534.0" r="2.1"/>
<circle cx="222.6" cy="535.4" r="2.1"/>
<circle cx="230.3" cy="535.3" r="2.1"/>
<circle cx="209.8" cy="536.6" r="2.1"/>
<circle cx="220.5" cy="540.9" r="2.1"/>
<circle cx="227.4" cy="543.6" r="2.1"/>
<circle cx="226.9" cy="546.3" r="2.1"/>
<circle cx="224.8" cy="548.4" r="2.1"/>
<circle cx="218.9" cy="547.9" r="2.1"/>
</g>
<g fill="#ff0000">
<circle cx="226.6" cy="21.9" r="2.1"/>
<circle cx="162.8" cy="55.5" r="2.1"/>
<circle cx="166.6" cy="55.8" r="2.1"/>
<circle cx="224.6" cy="66.5" r="2.1"/>
<circle cx="142.2" cy="89.7" r="2.1"/>
<circle cx="182.6" cy="95.0" r="2.1"/>
<circle cx="230.4" cy="97.3" r="2.1"/>
<circle cx="175.0" cy="106.5" r="2.1"/>
<circle cx="222.8" cy="110.0" r="2.1"/>
<circle cx="279.3" cy="17.9" r="2.1"/>
<circle cx="263.5" cy="20.4" r="2.1"/>
<circle cx="239.3" cy="23.7" r="2.1"/>
<circle cx="271.9" cy="24.5" r="2.1"/>
<circle cx="248.0" cy="30.2" r="2.1"/>
<circle cx="269.8" cy="30.3" r="2.1"/>
<circle cx="261.7" cy="39.0" r="2.1"/>
<circle cx="266.3" cy="50.9" r="2.1"/>
<circle cx="240.3" cy="60.1" r="2.1"/>
<circle cx="287.7" cy="60.7" r="2.1"/>
<circle cx="283.9" cy="63.4" r="2.1"/>
<circle cx="283.9" cy="68.0" r="2.1"/>
<circle cx="278.5" cy="78.2" r="2.1"/>
<circle cx="271.2" cy="90.6" r="2.1"/>
<circle cx="277.4" cy="92.1" r="2.1"/>
<circle cx="266.6" cy="94.4" r="2.1"/>
<circle cx="260.2" cy="97.5" r="2.1"/>
<circle cx="282.8" cy="97.3" r="2.1"/>
<circle cx="290.4" cy="99.6" r="2.1"/>
<circle cx="299.1" cy="101.6" r="2.1"/>
<circle cx="307.1" cy="102.1" r="2.1"/>
<circle cx="313.6" cy="104.4" r="2.1"/>
<circle cx="300.3" cy="106.9" r="2.1"/>
<circle cx="300.2" cy="26.8" r="2.1"/>
<circle cx="314.7" cy="24.0" r="2.1"/>
<circle cx="323.5" cy="21.0" r="2.1"/>
<circle cx="329.2" cy="46.9" r="2.1"/>
<circle cx="333.5" cy="59.6" r="2.1"/>
<circle cx="317.0" cy="72.3" r="2.1"/>
<circle cx="326.3" cy="71.1" r="2.1"/>
<circle cx="328.9" cy="95.5" r="2.1"/>
<circle cx="348.0" cy="19.9" r="2.1"/>
<circle cx="371.2" cy="19.9" r="2.1"/>
<circle cx="377.7" cy="24.2" r="2.1"/>
<circle cx="406.3" cy="19.2" r="2.1"/>
<circle cx="425.1" cy="23.3" r="2.1"/>
<circle cx="403.2" cy="27.6" r="2.1"/>
<circle cx="409.4" cy="28.6" r="2.1"/>
<circle cx="351.8" cy="34.1" r="2.1"/>
<circle cx="364.0" cy="33.2" r="2.1"/>
<circle cx="371.6" cy="35.5" r="2.1"/>
<circle cx="382.6" cy="37.2" r="2.1"/>
<circle cx="402.2" cy="33.7" r="2.1"/>
<circle cx="424.8" cy="32.9" r="2.1"/>
<circle cx="344.9" cy="40.8" r="2.1"/>
<circle cx="375.2" cy="47.4" r="2.1"/>
<circle cx="417.7" cy="48.2" r="2.1"/>
<circle cx="395.6" cy="54.3" r="2.1"/>
<circle cx="425.8" cy="53.5" r="2.1"/>
<circle cx="406.8" cy="57.3" r="2.1"/>
<circle cx="415.2" cy="56.6" r="2.1"/>
<circle cx="370.1" cy="63.4" r="2.1"/>
<circle cx="358.7" cy="68.8" r="2.1"/>
<circle cx="371.2" cy="77.2" r="2.1"/>
<circle cx="410.6" cy="70.6" r="2.1"/>
<circle cx="390.0" cy="79.8" r="2.1"/>
<circle cx="410.1" cy="77.2" r="2.1"/>
<circle cx="408.3" cy="79.5" r="2.1"/>
<circle cx="407.8" cy="83.6" r="2.1"/>
<circle cx="411.8" cy="83.0" r="2.1"/>
<circle cx="425.1" cy="81.3" r="2.1"/>
<circle cx="424.3" cy="90.6" r="2.1"/>
<circle cx="384.9" cy="95.8" r="2.1"/>
<circle cx="407.5" cy="95.5" r="2.1"/>
<circle cx="396.5" cy="101.3" r="2.1"/>
<circle cx="368.1" cy="106.2" r="2.1"/>
<circle cx="381.9" cy="107.3" r="2.1"/>
<circle cx="391.8" cy="110.0" r="2.1"/>
<circle cx="466.3" cy="15.3" r="2.1"/>
<circle cx="468.3" cy="13.4" r="2.1"/>
<circle cx="500.6" cy="17.6" r="2.1"/>
<circle cx="456.4" cy="32.9" r="2.1"/>
<circle cx="476.7" cy="31.7" r="2.1"/>
<circle cx="518.2" cy="29.5" r="2.1"/>
<circle cx="527.8" cy="37.2" r="2.1"/>
<circle cx="533.9" cy="38.2" r="2.1"/>
<circle cx="491.2" cy="44.4" r="2.1"/>
<circle cx="493.5" cy="49.2" r="2.1"/>
<circle cx="531.9" cy="48.6" r="2.1"/>
<circle cx="478.8" cy="55.0" r="2.1"/>
<circle cx="504.0" cy="53.2" r="2.1"/>
<circle cx="509.5" cy="54.6" r="2.1"/>
<circle cx="457.1" cy="66.0" r="2.1"/>
<circle cx="498.4" cy="74.4" r="2.1"/>
<circle cx="445.7" cy="75.6" r="2.1"/>
<circle cx="446.5" cy="81.0" r="2.1"/>
<circle cx="475.0" cy="77.2" r="2.1"/>
<circle cx="457.1" cy="84.4" r="2.1"/>
<circle cx="508.6" cy="86.3" r="2.1"/>
<circle cx="479.3" cy="88.6" r="2.1"/>
<circle cx="440.3" cy="93.2" r="2.1"/>
<circle cx="468.3" cy="93.7" r="2.1"/>
<circle cx="474.4" cy="94.7" r="2.1"/>
<circle cx="532.3" cy="102.8" r="2.1"/>
<circle cx="192.7" cy="115.3" r="2.1"/>
<circle cx="214.7" cy="115.3" r="2.1"/>
<circle cx="213.9" cy="133.2" r="2.1"/>
<circle cx="215.5" cy="140.1" r="2.1"/>
<circle cx="233.5" cy="142.1" r="2.1"/>
<circle cx="221.0" cy="146.3" r="2.1"/>
<circle cx="200.3" cy="161.1" r="2.1"/>
<circle cx="181.6" cy="168.3" r="2.1"/>
<circle cx="198.7" cy="174.1" r="2.1"/>
<circle cx="212.4" cy="181.3" r="2.1"/>
<circle cx="204.8" cy="188.9" r="2.1"/>
<circle cx="165.5" cy="197.8" r="2.1"/>
<circle cx="229.2" cy="196.7" r="2.1"/>
<circle cx="227.7" cy="199.3" r="2.1"/>
<circle cx="215.2" cy="207.7" r="2.1"/>
<circle cx="247.7" cy="112.0" r="2.1"/>
<circle cx="256.4" cy="127.9" r="2.1"/>
<circle cx="275.5" cy="126.8" r="2.1"/>
<circle cx="274.4" cy="129.8" r="2.1"/>
<circle cx="240.6" cy="134.1" r="2.1"/>
<circle cx="272.9" cy="138.2" r="2.1"/>
<circle cx="238.8" cy="147.9" r="2.1"/>
<circle cx="259.7" cy="152.3" r="2.1"/>
<circle cx="239.3" cy="159.9" r="2.1"/>
<circle cx="246.8" cy="184.8" r="2.1"/>
<circle cx="273.5" cy="190.9" r="2.1"/>
<circle cx="241.1" cy="200.4" r="2.1"/>
<circle cx="260.6" cy="207.4" r="2.1"/>
<circle cx="303.7" cy="118.9" r="2.1"/>
<circle cx="295.8" cy="125.0" r="2.1"/>
<circle cx="326.9" cy="121.8" r="2.1"/>
<circle cx="308.0" cy="128.3" r="2.1"/>
<circle cx="306.3" cy="131.7" r="2.1"/>
<circle cx="309.4" cy="131.7" r="2.1"/>
<circle cx="309.8" cy="147.1" r="2.1"/>
<circle cx="322.8" cy="149.7" r="2.1"/>
<circle cx="334.2" cy="166.0" r="2.1"/>
<circle cx="288.9" cy="173.4" r="2.1"/>
<circle cx="320.2" cy="172.6" r="2.1"/>
<circle cx="312.9" cy="174.9" r="2.1"/>
<circle cx="317.9" cy="178.4" r="2.1"/>
<circle cx="321.3" cy="178.4" r="2.1"/>
<circle cx="291.8" cy="182.1" r="2.1"/>
<circle cx="298.1" cy="188.9" r="2.1"/>
<circle cx="290.4" cy="192.0" r="2.1"/>
<circle cx="299.9" cy="195.5" r="2.1"/>
<circle cx="308.3" cy="193.5" r="2.1"/>
<circle cx="315.9" cy="193.2" r="2.1"/>
<circle cx="333.5" cy="195.8" r="2.1"/>
<circle cx="335.0" cy="191.7" r="2.1"/>
<circle cx="311.8" cy="202.4" r="2.1"/>
<circle cx="326.6" cy="202.1" r="2.1"/>
<circle cx="320.0" cy="208.9" r="2.1"/>
<circle cx="299.9" cy="210.0" r="2.1"/>
<circle cx="280.8" cy="210.0" r="2.1"/>
<circle cx="394.2" cy="113.4" r="2.1"/>
<circle cx="344.6" cy="115.0" r="2.1"/>
<circle cx="348.7" cy="123.0" r="2.1"/>
<circle cx="372.9" cy="123.3" r="2.1"/>
<circle cx="341.1" cy="126.8" r="2.1"/>
<circle cx="364.0" cy="130.6" r="2.1"/>
<circle cx="395.3" cy="130.3" r="2.1"/>
<circle cx="430.1" cy="132.1" r="2.1"/>
<circle cx="378.5" cy="134.9" r="2.1"/>
<circle cx="354.1" cy="139.0" r="2.1"/>
<circle cx="362.9" cy="141.3" r="2.1"/>
<circle cx="362.2" cy="144.8" r="2.1"/>
<circle cx="376.2" cy="141.6" r="2.1"/>
<circle cx="385.7" cy="145.1" r="2.1"/>
<circle cx="394.5" cy="145.6" r="2.1"/>
<circle cx="415.5" cy="141.3" r="2.1"/>
<circle cx="406.0" cy="145.9" r="2.1"/>
<circle cx="415.6" cy="147.4" r="2.1"/>
<circle cx="402.2" cy="149.7" r="2.1"/>
<circle cx="433.9" cy="149.4" r="2.1"/>
<circle cx="350.0" cy="151.5" r="2.1"/>
<circle cx="344.6" cy="156.6" r="2.1"/>
<circle cx="394.2" cy="161.1" r="2.1"/>
<circle cx="386.1" cy="166.9" r="2.1"/>
<circle cx="404.9" cy="178.7" r="2.1"/>
<circle cx="427.8" cy="180.7" r="2.1"/>
<circle cx="386.1" cy="183.6" r="2.1"/>
<circle cx="372.4" cy="185.9" r="2.1"/>
<circle cx="404.2" cy="185.1" r="2.1"/>
<circle cx="380.8" cy="192.0" r="2.1"/>
<circle cx="377.0" cy="193.7" r="2.1"/>
<circle cx="421.7" cy="191.7" r="2.1"/>
<circle cx="427.4" cy="190.5" r="2.1"/>
<circle cx="425.1" cy="192.4" r="2.1"/>
<circle cx="434.5" cy="190.2" r="2.1"/>
<circle cx="415.2" cy="196.7" r="2.1"/>
<circle cx="360.2" cy="198.9" r="2.1"/>
<circle cx="344.6" cy="200.5" r="2.1"/>
<circle cx="395.6" cy="201.1" r="2.1"/>
<circle cx="420.8" cy="201.6" r="2.1"/>
<circle cx="379.6" cy="203.4" r="2.1"/>
<circle cx="354.1" cy="206.5" r="2.1"/>
<circle cx="344.6" cy="208.9" r="2.1"/>
<circle cx="362.9" cy="210.0" r="2.1"/>
<circle cx="368.3" cy="210.0" r="2.1"/>
<circle cx="517.4" cy="115.8" r="2.1"/>
<circle cx="488.4" cy="117.2" r="2.1"/>
<circle cx="468.1" cy="119.6" r="2.1"/>
<circle cx="522.0" cy="126.5" r="2.1"/>
<circle cx="464.8" cy="128.6" r="2.1"/>
<circle cx="480.8" cy="127.6" r="2.1"/>
<circle cx="454.4" cy="135.5" r="2.1"/>
<circle cx="488.4" cy="134.7" r="2.1"/>
<circle cx="454.1" cy="146.6" r="2.1"/>
<circle cx="459.4" cy="154.3" r="2.1"/>
<circle cx="471.6" cy="154.0" r="2.1"/>
<circle cx="466.6" cy="158.9" r="2.1"/>
<circle cx="472.1" cy="159.3" r="2.1"/>
<circle cx="461.0" cy="165.7" r="2.1"/>
<circle cx="441.1" cy="172.9" r="2.1"/>
<circle cx="451.8" cy="171.5" r="2.1"/>
<circle cx="471.2" cy="172.9" r="2.1"/>
<circle cx="506.3" cy="171.8" r="2.1"/>
<circle cx="453.8" cy="177.5" r="2.1"/>
<circle cx="483.1" cy="177.2" r="2.1"/>
<circle cx="441.1" cy="179.5" r="2.1"/>
<circle cx="449.2" cy="180.2" r="2.1"/>
<circle cx="436.2" cy="185.9" r="2.1"/>
<circle cx="483.1" cy="184.4" r="2.1"/>
<circle cx="488.4" cy="187.4" r="2.1"/>
<circle cx="456.8" cy="192.9" r="2.1"/>
<circle cx="500.3" cy="190.9" r="2.1"/>
<circle cx="484.2" cy="196.6" r="2.1"/>
<circle cx="504.9" cy="197.0" r="2.1"/>
<circle cx="467.8" cy="201.9" r="2.1"/>
<circle cx="482.8" cy="201.1" r="2.1"/>
<circle cx="510.9" cy="201.3" r="2.1"/>
<circle cx="439.9" cy="206.2" r="2.1"/>
<circle cx="178.5" cy="215.8" r="2.1"/>
<circle cx="196.5" cy="230.2" r="2.1"/>
<circle cx="204.2" cy="240.5" r="2.1"/>
<circle cx="217.9" cy="243.6" r="2.1"/>
<circle cx="159.4" cy="246.6" r="2.1"/>
<circle cx="214.8" cy="248.9" r="2.1"/>
<circle cx="167.5" cy="252.4" r="2.1"/>
<circle cx="226.3" cy="257.8" r="2.1"/>
<circle cx="212.4" cy="258.9" r="2.1"/>
<circle cx="173.9" cy="260.1" r="2.1"/>
<circle cx="200.3" cy="259.6" r="2.1"/>
<circle cx="212.1" cy="262.7" r="2.1"/>
<circle cx="161.0" cy="273.7" r="2.1"/>
<circle cx="175.2" cy="274.1" r="2.1"/>
<circle cx="187.2" cy="280.5" r="2.1"/>
<circle cx="214.8" cy="288.2" r="2.1"/>
<circle cx="141.6" cy="292.9" r="2.1"/>
<circle cx="195.8" cy="292.1" r="2.1"/>
<circle cx="204.2" cy="294.4" r="2.1"/>
<circle cx="234.2" cy="292.4" r="2.1"/>
<circle cx="209.5" cy="302.8" r="2.1"/>
<circle cx="213.6" cy="306.2" r="2.1"/>
<circle cx="225.1" cy="306.2" r="2.1"/>
<circle cx="241.1" cy="215.3" r="2.1"/>
<circle cx="283.9" cy="219.9" r="2.1"/>
<circle cx="309.5" cy="215.8" r="2.1"/>
<circle cx="309.4" cy="221.1" r="2.1"/>
<circle cx="331.6" cy="216.9" r="2.1"/>
<circle cx="333.5" cy="226.0" r="2.1"/>
<circle cx="310.3" cy="228.0" r="2.1"/>
<circle cx="312.1" cy="229.1" r="2.1"/>
<circle cx="279.7" cy="236.7" r="2.1"/>
<circle cx="241.1" cy="242.5" r="2.1"/>
<circle cx="278.5" cy="242.4" r="2.1"/>
<circle cx="261.3" cy="245.1" r="2.1"/>
<circle cx="243.4" cy="246.9" r="2.1"/>
<circle cx="303.2" cy="245.1" r="2.1"/>
<circle cx="322.5" cy="240.2" r="2.1"/>
<circle cx="324.0" cy="243.6" r="2.1"/>
<circle cx="257.6" cy="255.0" r="2.1"/>
<circle cx="273.5" cy="255.5" r="2.1"/>
<circle cx="307.5" cy="255.5" r="2.1"/>
<circle cx="324.3" cy="256.6" r="2.1"/>
<circle cx="242.2" cy="263.1" r="2.1"/>
<circle cx="271.2" cy="263.1" r="2.1"/>
<circle cx="306.8" cy="266.2" r="2.1"/>
<circle cx="308.7" cy="268.8" r="2.1"/>
<circle cx="248.7" cy="268.3" r="2.1"/>
<circle cx="273.2" cy="269.1" r="2.1"/>
<circle cx="269.4" cy="271.8" r="2.1"/>
<circle cx="297.3" cy="272.6" r="2.1"/>
<circle cx="298.4" cy="276.4" r="2.1"/>
<circle cx="332.7" cy="268.8" r="2.1"/>
<circle cx="327.8" cy="274.9" r="2.1"/>
<circle cx="271.2" cy="281.5" r="2.1"/>
<circle cx="241.6" cy="283.0" r="2.1"/>
<circle cx="307.5" cy="283.6" r="2.1"/>
<circle cx="266.6" cy="285.9" r="2.1"/>
<circle cx="301.0" cy="285.6" r="2.1"/>
<circle cx="301.9" cy="290.9" r="2.1"/>
<circle cx="300.3" cy="294.4" r="2.1"/>
<circle cx="288.7" cy="292.9" r="2.1"/>
<circle cx="324.8" cy="292.0" r="2.1"/>
<circle cx="257.1" cy="295.0" r="2.1"/>
<circle cx="237.0" cy="300.1" r="2.1"/>
<circle cx="268.9" cy="303.1" r="2.1"/>
<circle cx="248.4" cy="308.2" r="2.1"/>
<circle cx="281.9" cy="307.7" r="2.1"/>
<circle cx="291.5" cy="308.8" r="2.1"/>
<circle cx="321.7" cy="308.5" r="2.1"/>
<circle cx="375.0" cy="212.3" r="2.1"/>
<circle cx="353.8" cy="215.0" r="2.1"/>
<circle cx="344.2" cy="219.6" r="2.1"/>
<circle cx="376.7" cy="218.7" r="2.1"/>
<circle cx="371.6" cy="221.0" r="2.1"/>
<circle cx="405.2" cy="217.6" r="2.1"/>
<circle cx="408.0" cy="219.2" r="2.1"/>
<circle cx="341.1" cy="226.0" r="2.1"/>
<circle cx="376.2" cy="234.4" r="2.1"/>
<circle cx="406.8" cy="236.4" r="2.1"/>
<circle cx="430.1" cy="236.4" r="2.1"/>
<circle cx="346.9" cy="244.4" r="2.1"/>
<circle cx="412.1" cy="244.8" r="2.1"/>
<circle cx="339.3" cy="247.4" r="2.1"/>
<circle cx="359.0" cy="249.4" r="2.1"/>
<circle cx="372.4" cy="249.2" r="2.1"/>
<circle cx="412.4" cy="250.0" r="2.1"/>
<circle cx="414.8" cy="250.5" r="2.1"/>
<circle cx="388.7" cy="251.7" r="2.1"/>
<circle cx="384.6" cy="253.8" r="2.1"/>
<circle cx="394.5" cy="254.0" r="2.1"/>
<circle cx="424.0" cy="254.0" r="2.1"/>
<circle cx="431.5" cy="254.7" r="2.1"/>
<circle cx="348.7" cy="257.3" r="2.1"/>
<circle cx="381.9" cy="260.4" r="2.1"/>
<circle cx="355.6" cy="263.4" r="2.1"/>
<circle cx="359.0" cy="263.0" r="2.1"/>
<circle cx="419.7" cy="263.0" r="2.1"/>
<circle cx="424.3" cy="263.0" r="2.1"/>
<circle cx="405.2" cy="263.7" r="2.1"/>
<circle cx="403.7" cy="266.2" r="2.1"/>
<circle cx="365.1" cy="272.9" r="2.1"/>
<circle cx="434.7" cy="272.3" r="2.1"/>
<circle cx="428.6" cy="278.7" r="2.1"/>
<circle cx="365.5" cy="281.5" r="2.1"/>
<circle cx="370.6" cy="282.1" r="2.1"/>
<circle cx="390.4" cy="283.6" r="2.1"/>
<circle cx="377.0" cy="284.8" r="2.1"/>
<circle cx="345.2" cy="291.7" r="2.1"/>
<circle cx="351.8" cy="291.7" r="2.1"/>
<circle cx="355.9" cy="289.7" r="2.1"/>
<circle cx="370.4" cy="290.2" r="2.1"/>
<circle cx="363.2" cy="292.7" r="2.1"/>
<circle cx="388.1" cy="292.9" r="2.1"/>
<circle cx="337.7" cy="298.2" r="2.1"/>
<circle cx="355.6" cy="298.2" r="2.1"/>
<circle cx="363.7" cy="298.9" r="2.1"/>
<circle cx="396.8" cy="298.9" r="2.1"/>
<circle cx="349.8" cy="302.1" r="2.1"/>
<circle cx="415.5" cy="302.4" r="2.1"/>
<circle cx="384.6" cy="303.9" r="2.1"/>
<circle cx="402.2" cy="305.0" r="2.1"/>
<circle cx="337.3" cy="307.4" r="2.1"/>
<circle cx="343.1" cy="307.4" r="2.1"/>
<circle cx="431.9" cy="307.7" r="2.1"/>
<circle cx="378.2" cy="310.0" r="2.1"/>
<circle cx="392.3" cy="310.0" r="2.1"/>
<circle cx="447.7" cy="212.6" r="2.1"/>
<circle cx="450.7" cy="212.6" r="2.1"/>
<circle cx="492.3" cy="216.9" r="2.1"/>
<circle cx="495.3" cy="221.5" r="2.1"/>
<circle cx="482.8" cy="222.7" r="2.1"/>
<circle cx="442.9" cy="224.2" r="2.1"/>
<circle cx="450.6" cy="231.7" r="2.1"/>
<circle cx="450.0" cy="236.0" r="2.1"/>
<circle cx="456.4" cy="239.8" r="2.1"/>
<circle cx="463.5" cy="243.3" r="2.1"/>
<circle cx="442.9" cy="245.6" r="2.1"/>
<circle cx="509.8" cy="252.7" r="2.1"/>
<circle cx="440.0" cy="258.9" r="2.1"/>
<circle cx="504.8" cy="260.1" r="2.1"/>
<circle cx="447.5" cy="261.9" r="2.1"/>
<circle cx="458.7" cy="263.4" r="2.1"/>
<circle cx="474.7" cy="266.9" r="2.1"/>
<circle cx="455.3" cy="283.7" r="2.1"/>
<circle cx="465.1" cy="287.9" r="2.1"/>
<circle cx="493.0" cy="286.8" r="2.1"/>
<circle cx="447.2" cy="292.7" r="2.1"/>
<circle cx="446.9" cy="298.2" r="2.1"/>
<circle cx="496.8" cy="297.8" r="2.1"/>
<circle cx="460.6" cy="299.8" r="2.1"/>
<circle cx="456.8" cy="301.1" r="2.1"/>
<circle cx="466.3" cy="301.3" r="2.1"/>
<circle cx="484.9" cy="305.0" r="2.1"/>
<circle cx="456.8" cy="309.5" r="2.1"/>
<circle cx="435.0" cy="309.2" r="2.1"/>
<circle cx="230.9" cy="320.4" r="2.1"/>
<circle cx="169.4" cy="332.9" r="2.1"/>
<circle cx="212.1" cy="341.0" r="2.1"/>
<circle cx="215.2" cy="341.0" r="2.1"/>
<circle cx="185.4" cy="346.3" r="2.1"/>
<circle cx="202.2" cy="350.2" r="2.1"/>
<circle cx="195.0" cy="354.3" r="2.1"/>
<circle cx="207.2" cy="357.8" r="2.1"/>
<circle cx="184.2" cy="370.3" r="2.1"/>
<circle cx="213.3" cy="375.2" r="2.1"/>
<circle cx="172.4" cy="385.6" r="2.1"/>
<circle cx="175.2" cy="389.1" r="2.1"/>
<circle cx="207.5" cy="388.3" r="2.1"/>
<circle cx="185.1" cy="395.0" r="2.1"/>
<circle cx="214.4" cy="398.5" r="2.1"/>
<circle cx="225.1" cy="398.1" r="2.1"/>
<circle cx="213.6" cy="401.6" r="2.1"/>
<circle cx="210.6" cy="403.1" r="2.1"/>
<circle cx="220.2" cy="402.1" r="2.1"/>
<circle cx="212.4" cy="405.9" r="2.1"/>
<circle cx="197.6" cy="405.4" r="2.1"/>
<circle cx="234.2" cy="408.5" r="2.1"/>
<circle cx="257.6" cy="312.7" r="2.1"/>
<circle cx="257.4" cy="316.9" r="2.1"/>
<circle cx="240.0" cy="315.8" r="2.1"/>
<circle cx="331.6" cy="312.7" r="2.1"/>
<circle cx="235.0" cy="337.5" r="2.1"/>
<circle cx="301.7" cy="332.6" r="2.1"/>
<circle cx="297.9" cy="333.7" r="2.1"/>
<circle cx="297.6" cy="337.2" r="2.1"/>
<circle cx="309.8" cy="334.9" r="2.1"/>
<circle cx="331.5" cy="333.7" r="2.1"/>
<circle cx="332.3" cy="337.0" r="2.1"/>
<circle cx="317.9" cy="337.5" r="2.1"/>
<circle cx="324.0" cy="340.1" r="2.1"/>
<circle cx="326.6" cy="342.8" r="2.1"/>
<circle cx="311.8" cy="346.9" r="2.1"/>
<circle cx="334.2" cy="344.8" r="2.1"/>
<circle cx="262.0" cy="349.7" r="2.1"/>
<circle cx="293.5" cy="353.5" r="2.1"/>
<circle cx="320.0" cy="354.3" r="2.1"/>
<circle cx="241.1" cy="357.3" r="2.1"/>
<circle cx="270.1" cy="357.8" r="2.1"/>
<circle cx="298.4" cy="359.2" r="2.1"/>
<circle cx="325.5" cy="360.1" r="2.1"/>
<circle cx="313.9" cy="361.9" r="2.1"/>
<circle cx="315.5" cy="362.4" r="2.1"/>
<circle cx="323.5" cy="362.7" r="2.1"/>
<circle cx="319.4" cy="363.9" r="2.1"/>
<circle cx="283.9" cy="366.5" r="2.1"/>
<circle cx="241.1" cy="367.7" r="2.1"/>
<circle cx="245.7" cy="370.0" r="2.1"/>
<circle cx="308.3" cy="371.1" r="2.1"/>
<circle cx="300.6" cy="372.6" r="2.1"/>
<circle cx="327.4" cy="369.5" r="2.1"/>
<circle cx="292.3" cy="375.6" r="2.1"/>
<circle cx="275.5" cy="376.7" r="2.1"/>
<circle cx="244.2" cy="381.3" r="2.1"/>
<circle cx="284.9" cy="384.4" r="2.1"/>
<circle cx="284.9" cy="387.1" r="2.1"/>
<circle cx="317.9" cy="386.8" r="2.1"/>
<circle cx="304.9" cy="387.9" r="2.1"/>
<circle cx="277.4" cy="389.4" r="2.1"/>
<circle cx="245.4" cy="390.9" r="2.1"/>
<circle cx="296.4" cy="390.2" r="2.1"/>
<circle cx="293.8" cy="392.9" r="2.1"/>
<circle cx="292.7" cy="394.7" r="2.1"/>
<circle cx="308.3" cy="392.4" r="2.1"/>
<circle cx="318.2" cy="393.2" r="2.1"/>
<circle cx="237.3" cy="393.2" r="2.1"/>
<circle cx="236.5" cy="396.3" r="2.1"/>
<circle cx="258.7" cy="395.0" r="2.1"/>
<circle cx="263.5" cy="397.0" r="2.1"/>
<circle cx="304.0" cy="396.0" r="2.1"/>
<circle cx="284.6" cy="397.3" r="2.1"/>
<circle cx="321.6" cy="399.0" r="2.1"/>
<circle cx="329.7" cy="399.0" r="2.1"/>
<circle cx="252.6" cy="401.1" r="2.1"/>
<circle cx="245.7" cy="402.8" r="2.1"/>
<circle cx="255.6" cy="403.6" r="2.1"/>
<circle cx="274.7" cy="403.1" r="2.1"/>
<circle cx="281.9" cy="403.4" r="2.1"/>
<circle cx="321.7" cy="403.1" r="2.1"/>
<circle cx="282.3" cy="405.9" r="2.1"/>
<circle cx="312.9" cy="405.9" r="2.1"/>
<circle cx="270.9" cy="407.7" r="2.1"/>
<circle cx="286.5" cy="407.7" r="2.1"/>
<circle cx="300.3" cy="410.0" r="2.1"/>
<circle cx="335.0" cy="374.1" r="2.1"/>
<circle cx="341.9" cy="313.8" r="2.1"/>
<circle cx="344.9" cy="319.2" r="2.1"/>
<circle cx="362.5" cy="311.8" r="2.1"/>
<circle cx="361.3" cy="314.9" r="2.1"/>
<circle cx="364.5" cy="316.1" r="2.1"/>
<circle cx="366.8" cy="318.1" r="2.1"/>
<circle cx="397.6" cy="320.2" r="2.1"/>
<circle cx="408.3" cy="314.3" r="2.1"/>
<circle cx="406.5" cy="316.6" r="2.1"/>
<circle cx="406.5" cy="321.5" r="2.1"/>
<circle cx="408.6" cy="327.3" r="2.1"/>
<circle cx="419.7" cy="316.6" r="2.1"/>
<circle cx="421.7" cy="318.9" r="2.1"/>
<circle cx="429.2" cy="311.5" r="2.1"/>
<circle cx="374.2" cy="328.0" r="2.1"/>
<circle cx="383.4" cy="331.1" r="2.1"/>
<circle cx="402.9" cy="330.6" r="2.1"/>
<circle cx="426.1" cy="331.8" r="2.1"/>
<circle cx="339.9" cy="340.1" r="2.1"/>
<circle cx="343.4" cy="340.5" r="2.1"/>
<circle cx="360.5" cy="340.1" r="2.1"/>
<circle cx="364.0" cy="338.2" r="2.1"/>
<circle cx="363.5" cy="341.3" r="2.1"/>
<circle cx="336.2" cy="344.8" r="2.1"/>
<circle cx="356.4" cy="345.6" r="2.1"/>
<circle cx="352.1" cy="347.9" r="2.1"/>
<circle cx="372.9" cy="347.4" r="2.1"/>
<circle cx="368.6" cy="353.1" r="2.1"/>
<circle cx="375.0" cy="352.7" r="2.1"/>
<circle cx="379.3" cy="352.7" r="2.1"/>
<circle cx="396.4" cy="351.7" r="2.1"/>
<circle cx="433.5" cy="354.7" r="2.1"/>
<circle cx="364.5" cy="359.3" r="2.1"/>
<circle cx="418.5" cy="358.9" r="2.1"/>
<circle cx="429.7" cy="357.8" r="2.1"/>
<circle cx="349.8" cy="364.5" r="2.1"/>
<circle cx="382.3" cy="363.7" r="2.1"/>
<circle cx="385.1" cy="366.8" r="2.1"/>
<circle cx="397.6" cy="362.7" r="2.1"/>
<circle cx="408.6" cy="367.7" r="2.1"/>
<circle cx="409.8" cy="370.0" r="2.1"/>
<circle cx="416.2" cy="367.3" r="2.1"/>
<circle cx="422.0" cy="367.3" r="2.1"/>
<circle cx="426.3" cy="367.3" r="2.1"/>
<circle cx="359.9" cy="371.1" r="2.1"/>
<circle cx="361.3" cy="372.6" r="2.1"/>
<circle cx="344.2" cy="377.9" r="2.1"/>
<circle cx="337.3" cy="379.8" r="2.1"/>
<circle cx="411.3" cy="379.2" r="2.1"/>
<circle cx="341.4" cy="385.3" r="2.1"/>
<circle cx="391.2" cy="384.5" r="2.1"/>
<circle cx="397.1" cy="384.5" r="2.1"/>
<circle cx="401.0" cy="387.9" r="2.1"/>
<circle cx="368.6" cy="388.3" r="2.1"/>
<circle cx="373.5" cy="389.8" r="2.1"/>
<circle cx="383.5" cy="388.3" r="2.1"/>
<circle cx="387.2" cy="394.4" r="2.1"/>
<circle cx="401.0" cy="394.7" r="2.1"/>
<circle cx="425.4" cy="395.2" r="2.1"/>
<circle cx="383.4" cy="397.0" r="2.1"/>
<circle cx="384.2" cy="400.5" r="2.1"/>
<circle cx="411.3" cy="397.3" r="2.1"/>
<circle cx="428.6" cy="401.1" r="2.1"/>
<circle cx="395.6" cy="404.2" r="2.1"/>
<circle cx="369.7" cy="406.6" r="2.1"/>
<circle cx="377.4" cy="409.5" r="2.1"/>
<circle cx="412.9" cy="407.4" r="2.1"/>
<circle cx="415.2" cy="408.2" r="2.1"/>
<circle cx="438.4" cy="321.0" r="2.1"/>
<circle cx="482.6" cy="332.1" r="2.1"/>
<circle cx="467.5" cy="334.7" r="2.1"/>
<circle cx="470.1" cy="336.4" r="2.1"/>
<circle cx="451.8" cy="342.1" r="2.1"/>
<circle cx="444.6" cy="356.6" r="2.1"/>
<circle cx="460.5" cy="355.3" r="2.1"/>
<circle cx="459.1" cy="357.3" r="2.1"/>
<circle cx="483.5" cy="364.2" r="2.1"/>
<circle cx="462.2" cy="370.8" r="2.1"/>
<circle cx="452.3" cy="371.8" r="2.1"/>
<circle cx="477.0" cy="372.3" r="2.1"/>
<circle cx="462.0" cy="379.0" r="2.1"/>
<circle cx="445.4" cy="387.1" r="2.1"/>
<circle cx="450.6" cy="396.6" r="2.1"/>
<circle cx="471.9" cy="397.0" r="2.1"/>
<circle cx="463.2" cy="399.3" r="2.1"/>
<circle cx="457.9" cy="406.5" r="2.1"/>
<circle cx="454.4" cy="408.2" r="2.1"/>
<circle cx="181.5" cy="412.9" r="2.1"/>
<circle cx="187.9" cy="413.7" r="2.1"/>
<circle cx="161.7" cy="419.9" r="2.1"/>
<circle cx="155.6" cy="423.6" r="2.1"/>
<circle cx="164.9" cy="424.4" r="2.1"/>
<circle cx="201.8" cy="423.6" r="2.1"/>
<circle cx="173.2" cy="429.8" r="2.1"/>
<circle cx="148.4" cy="432.8" r="2.1"/>
<circle cx="165.8" cy="433.7" r="2.1"/>
<circle cx="194.3" cy="432.7" r="2.1"/>
<circle cx="193.2" cy="438.0" r="2.1"/>
<circle cx="178.1" cy="452.2" r="2.1"/>
<circle cx="204.3" cy="455.4" r="2.1"/>
<circle cx="183.9" cy="459.7" r="2.1"/>
<circle cx="175.6" cy="468.5" r="2.1"/>
<circle cx="163.6" cy="475.9" r="2.1"/>
<circle cx="204.5" cy="463.4" r="2.1"/>
<circle cx="225.8" cy="418.0" r="2.1"/>
<circle cx="239.9" cy="421.4" r="2.1"/>
<circle cx="251.7" cy="418.2" r="2.1"/>
<circle cx="271.0" cy="414.3" r="2.1"/>
<circle cx="272.3" cy="418.0" r="2.1"/>
<circle cx="254.4" cy="424.4" r="2.1"/>
<circle cx="243.2" cy="428.9" r="2.1"/>
<circle cx="252.0" cy="432.4" r="2.1"/>
<circle cx="252.6" cy="434.6" r="2.1"/>
<circle cx="275.0" cy="438.9" r="2.1"/>
<circle cx="237.3" cy="442.9" r="2.1"/>
<circle cx="242.4" cy="444.2" r="2.1"/>
<circle cx="217.0" cy="444.7" r="2.1"/>
<circle cx="208.2" cy="447.1" r="2.1"/>
<circle cx="272.5" cy="449.0" r="2.1"/>
<circle cx="263.0" cy="453.5" r="2.1"/>
<circle cx="245.9" cy="455.1" r="2.1"/>
<circle cx="274.5" cy="453.5" r="2.1"/>
<circle cx="214.1" cy="456.8" r="2.1"/>
<circle cx="265.7" cy="458.4" r="2.1"/>
<circle cx="238.7" cy="462.6" r="2.1"/>
<circle cx="259.7" cy="462.7" r="2.1"/>
<circle cx="208.2" cy="463.1" r="2.1"/>
<circle cx="212.7" cy="466.6" r="2.1"/>
<circle cx="212.7" cy="468.8" r="2.1"/>
<circle cx="218.4" cy="471.5" r="2.1"/>
<circle cx="230.9" cy="471.5" r="2.1"/>
<circle cx="246.5" cy="472.8" r="2.1"/>
<circle cx="259.0" cy="472.5" r="2.1"/>
<circle cx="260.6" cy="471.5" r="2.1"/>
<circle cx="271.0" cy="471.2" r="2.1"/>
<circle cx="206.9" cy="474.9" r="2.1"/>
<circle cx="216.2" cy="474.1" r="2.1"/>
<circle cx="214.4" cy="476.8" r="2.1"/>
<circle cx="216.8" cy="476.5" r="2.1"/>
<circle cx="250.7" cy="475.2" r="2.1"/>
<circle cx="252.6" cy="477.6" r="2.1"/>
<circle cx="263.2" cy="477.9" r="2.1"/>
<circle cx="274.5" cy="478.9" r="2.1"/>
<circle cx="145.9" cy="487.5" r="2.1"/>
<circle cx="188.6" cy="485.1" r="2.1"/>
<circle cx="195.2" cy="497.1" r="2.1"/>
<circle cx="192.4" cy="507.8" r="2.1"/>
<circle cx="154.5" cy="514.9" r="2.1"/>
<circle cx="201.0" cy="516.6" r="2.1"/>
<circle cx="182.0" cy="517.4" r="2.1"/>
<circle cx="182.2" cy="520.6" r="2.1"/>
<circle cx="172.1" cy="522.7" r="2.1"/>
<circle cx="195.9" cy="526.0" r="2.1"/>
<circle cx="197.0" cy="527.0" r="2.1"/>
<circle cx="183.1" cy="528.8" r="2.1"/>
<circle cx="204.3" cy="528.6" r="2.1"/>
<circle cx="186.3" cy="534.5" r="2.1"/>
<circle cx="188.4" cy="533.4" r="2.1"/>
<circle cx="198.4" cy="533.8" r="2.1"/>
<circle cx="171.1" cy="537.9" r="2.1"/>
<circle cx="178.3" cy="538.2" r="2.1"/>
<circle cx="182.3" cy="541.2" r="2.1"/>
<circle cx="200.4" cy="539.1" r="2.1"/>
<circle cx="203.9" cy="540.9" r="2.1"/>
<circle cx="203.4" cy="544.7" r="2.1"/>
<circle cx="172.2" cy="546.3" r="2.1"/>
<circle cx="168.3" cy="547.9" r="2.1"/>
<circle cx="189.0" cy="547.5" r="2.1"/>
<circle cx="200.2" cy="548.4" r="2.1"/>
<circle cx="204.5" cy="483.2" r="2.1"/>
<circle cx="206.9" cy="483.7" r="2.1"/>
<circle cx="210.9" cy="484.3" r="2.1"/>
<circle cx="251.5" cy="484.5" r="2.1"/>
<circle cx="272.9" cy="481.6" r="2.1"/>
<circle cx="211.4" cy="490.9" r="2.1"/>
<circle cx="222.6" cy="494.7" r="2.1"/>
<circle cx="247.0" cy="491.2" r="2.1"/>
<circle cx="257.4" cy="488.0" r="2.1"/>
<circle cx="258.1" cy="492.1" r="2.1"/>
<circle cx="265.6" cy="491.5" r="2.1"/>
<circle cx="270.7" cy="488.8" r="2.1"/>
<circle cx="271.8" cy="492.1" r="2.1"/>
<circle cx="216.0" cy="500.8" r="2.1"/>
<circle cx="261.3" cy="500.8" r="2.1"/>
<circle cx="272.5" cy="501.4" r="2.1"/>
<circle cx="216.0" cy="508.9" r="2.1"/>
<circle cx="241.3" cy="509.4" r="2.1"/>
<circle cx="251.5" cy="507.6" r="2.1"/>
<circle cx="254.9" cy="506.0" r="2.1"/>
<circle cx="248.0" cy="511.2" r="2.1"/>
<circle cx="258.1" cy="512.1" r="2.1"/>
<circle cx="266.7" cy="508.0" r="2.1"/>
<circle cx="269.7" cy="507.3" r="2.1"/>
<circle cx="269.1" cy="504.4" r="2.1"/>
<circle cx="224.2" cy="513.7" r="2.1"/>
<circle cx="231.7" cy="519.0" r="2.1"/>
<circle cx="244.2" cy="517.7" r="2.1"/>
<circle cx="249.0" cy="517.1" r="2.1"/>
<circle cx="254.7" cy="519.5" r="2.1"/>
<circle cx="258.4" cy="520.4" r="2.1"/>
<circle cx="215.2" cy="521.9" r="2.1"/>
<circle cx="249.7" cy="522.7" r="2.1"/>
<circle cx="231.5" cy="526.2" r="2.1"/>
<circle cx="235.2" cy="526.5" r="2.1"/>
<circle cx="239.7" cy="528.1" r="2.1"/>
<circle cx="243.2" cy="527.0" r="2.1"/>
<circle cx="244.0" cy="528.6" r="2.1"/>
<circle cx="249.1" cy="526.2" r="2.1"/>
<circle cx="262.7" cy="525.7" r="2.1"/>
<circle cx="266.1" cy="526.0" r="2.1"/>
<circle cx="206.6" cy="528.6" r="2.1"/>
<circle cx="208.7" cy="530.2" r="2.1"/>
<circle cx="215.2" cy="529.2" r="2.1"/>
<circle cx="216.2" cy="532.0" r="2.1"/>
<circle cx="221.0" cy="530.0" r="2.1"/>
<circle cx="225.8" cy="530.8" r="2.1"/>
<circle cx="234.4" cy="530.2" r="2.1"/>
<circle cx="232.5" cy="532.0" r="2.1"/>
<circle cx="259.5" cy="529.4" r="2.1"/>
<circle cx="259.0" cy="532.0" r="2.1"/>
<circle cx="262.2" cy="533.4" r="2.1"/>
<circle cx="264.8" cy="534.3" r="2.1"/>
<circle cx="269.1" cy="532.9" r="2.1"/>
<circle cx="273.4" cy="535.0" r="2.1"/>
<circle cx="247.4" cy="534.7" r="2.1"/>
<circle cx="240.6" cy="538.0" r="2.1"/>
<circle cx="244.8" cy="539.3" r="2.1"/>
<circle cx="218.4" cy="538.8" r="2.1"/>
<circle cx="229.0" cy="538.2" r="2.1"/>
<circle cx="235.5" cy="539.6" r="2.1"/>
<circle cx="236.8" cy="541.5" r="2.1"/>
<circle cx="261.6" cy="537.7" r="2.1"/>
<circle cx="272.5" cy="541.7" r="2.1"/>
<circle cx="223.7" cy="543.1" r="2.1"/>
<circle cx="216.2" cy="545.4" r="2.1"/>
<circle cx="218.9" cy="545.2" r="2.1"/>
<circle cx="236.5" cy="546.0" r="2.1"/>
<circle cx="251.0" cy="544.1" r="2.1"/>
<circle cx="249.9" cy="547.9" r="2.1"/>
<circle cx="252.0" cy="548.4" r="2.1"/>
<circle cx="261.6" cy="548.4" r="2.1"/>
<circle cx="269.1" cy="549.5" r="2.1"/>
<circle cx="275.0" cy="523.8" r="2.1"/>
<circle cx="365.8" cy="412.3" r="2.1"/>
<circle cx="278.8" cy="415.8" r="2.1"/>
<circle cx="284.6" cy="417.9" r="2.1"/>
<circle cx="278.8" cy="422.7" r="2.1"/>
<circle cx="284.6" cy="424.2" r="2.1"/>
<circle cx="284.9" cy="427.6" r="2.1"/>
<circle cx="287.5" cy="428.3" r="2.1"/>
<circle cx="288.7" cy="433.4" r="2.1"/>
<circle cx="316.7" cy="419.2" r="2.1"/>
<circle cx="317.4" cy="422.5" r="2.1"/>
<circle cx="342.2" cy="417.9" r="2.1"/>
<circle cx="345.2" cy="419.5" r="2.1"/>
<circle cx="348.3" cy="417.3" r="2.1"/>
<circle cx="351.8" cy="418.9" r="2.1"/>
<circle cx="354.8" cy="418.7" r="2.1"/>
<circle cx="348.7" cy="424.8" r="2.1"/>
<circle cx="357.0" cy="426.0" r="2.1"/>
<circle cx="365.1" cy="423.7" r="2.1"/>
<circle cx="366.6" cy="425.7" r="2.1"/>
<circle cx="370.9" cy="425.7" r="2.1"/>
<circle cx="374.7" cy="425.3" r="2.1"/>
<circle cx="301.0" cy="430.6" r="2.1"/>
<circle cx="308.1" cy="431.8" r="2.1"/>
<circle cx="310.4" cy="433.2" r="2.1"/>
<circle cx="320.5" cy="429.8" r="2.1"/>
<circle cx="316.5" cy="433.2" r="2.1"/>
<circle cx="341.7" cy="428.8" r="2.1"/>
<circle cx="337.1" cy="433.2" r="2.1"/>
<circle cx="351.0" cy="430.9" r="2.1"/>
<circle cx="361.3" cy="434.9" r="2.1"/>
<circle cx="371.5" cy="432.6" r="2.1"/>
<circle cx="297.4" cy="440.1" r="2.1"/>
<circle cx="304.5" cy="438.5" r="2.1"/>
<circle cx="370.9" cy="438.2" r="2.1"/>
<circle cx="366.6" cy="441.0" r="2.1"/>
<circle cx="365.5" cy="442.8" r="2.1"/>
<circle cx="352.9" cy="440.5" r="2.1"/>
<circle cx="298.7" cy="444.8" r="2.1"/>
<circle cx="313.2" cy="443.3" r="2.1"/>
<circle cx="321.1" cy="442.1" r="2.1"/>
<circle cx="323.1" cy="443.1" r="2.1"/>
<circle cx="355.5" cy="445.1" r="2.1"/>
<circle cx="357.0" cy="447.4" r="2.1"/>
<circle cx="286.0" cy="447.1" r="2.1"/>
<circle cx="333.0" cy="448.2" r="2.1"/>
<circle cx="331.0" cy="450.5" r="2.1"/>
<circle cx="360.0" cy="450.5" r="2.1"/>
<circle cx="370.9" cy="447.4" r="2.1"/>
<circle cx="375.0" cy="450.0" r="2.1"/>
<circle cx="285.7" cy="454.3" r="2.1"/>
<circle cx="286.9" cy="456.3" r="2.1"/>
<circle cx="295.9" cy="456.3" r="2.1"/>
<circle cx="310.4" cy="451.5" r="2.1"/>
<circle cx="315.9" cy="454.3" r="2.1"/>
<circle cx="348.7" cy="455.5" r="2.1"/>
<circle cx="360.5" cy="454.7" r="2.1"/>
<circle cx="333.8" cy="457.0" r="2.1"/>
<circle cx="332.3" cy="459.2" r="2.1"/>
<circle cx="337.6" cy="460.1" r="2.1"/>
<circle cx="336.5" cy="462.2" r="2.1"/>
<circle cx="341.7" cy="460.7" r="2.1"/>
<circle cx="344.0" cy="462.2" r="2.1"/>
<circle cx="366.6" cy="459.9" r="2.1"/>
<circle cx="303.7" cy="461.5" r="2.1"/>
<circle cx="315.0" cy="461.9" r="2.1"/>
<circle cx="282.9" cy="466.9" r="2.1"/>
<circle cx="317.0" cy="468.8" r="2.1"/>
<circle cx="318.2" cy="469.8" r="2.1"/>
<circle cx="338.8" cy="467.7" r="2.1"/>
<circle cx="336.1" cy="470.6" r="2.1"/>
<circle cx="350.9" cy="467.7" r="2.1"/>
<circle cx="353.3" cy="470.0" r="2.1"/>
<circle cx="368.4" cy="468.0" r="2.1"/>
<circle cx="371.6" cy="471.8" r="2.1"/>
<circle cx="367.1" cy="473.1" r="2.1"/>
<circle cx="360.5" cy="472.6" r="2.1"/>
<circle cx="290.7" cy="474.1" r="2.1"/>
<circle cx="294.4" cy="472.9" r="2.1"/>
<circle cx="314.2" cy="473.8" r="2.1"/>
<circle cx="316.2" cy="476.4" r="2.1"/>
<circle cx="335.0" cy="473.4" r="2.1"/>
<circle cx="333.0" cy="476.4" r="2.1"/>
<circle cx="295.9" cy="477.6" r="2.1"/>
<circle cx="296.8" cy="479.5" r="2.1"/>
<circle cx="310.4" cy="478.2" r="2.1"/>
<circle cx="338.7" cy="479.2" r="2.1"/>
<circle cx="355.5" cy="475.3" r="2.1"/>
<circle cx="351.8" cy="476.7" r="2.1"/>
<circle cx="353.9" cy="479.2" r="2.1"/>
<circle cx="365.1" cy="476.7" r="2.1"/>
<circle cx="370.7" cy="479.9" r="2.1"/>
<circle cx="362.5" cy="481.3" r="2.1"/>
<circle cx="276.8" cy="481.8" r="2.1"/>
<circle cx="290.7" cy="480.5" r="2.1"/>
<circle cx="349.0" cy="481.3" r="2.1"/>
<circle cx="349.8" cy="484.5" r="2.1"/>
<circle cx="355.9" cy="483.7" r="2.1"/>
<circle cx="324.9" cy="482.8" r="2.1"/>
<circle cx="318.5" cy="484.4" r="2.1"/>
<circle cx="321.9" cy="485.9" r="2.1"/>
<circle cx="326.1" cy="485.3" r="2.1"/>
<circle cx="333.3" cy="484.8" r="2.1"/>
<circle cx="275.0" cy="485.9" r="2.1"/>
<circle cx="296.1" cy="485.3" r="2.1"/>
<circle cx="304.5" cy="487.4" r="2.1"/>
<circle cx="313.6" cy="486.3" r="2.1"/>
<circle cx="284.9" cy="487.6" r="2.1"/>
<circle cx="281.4" cy="488.6" r="2.1"/>
<circle cx="326.6" cy="488.9" r="2.1"/>
<circle cx="329.5" cy="491.4" r="2.1"/>
<circle cx="334.1" cy="490.9" r="2.1"/>
<circle cx="320.8" cy="492.4" r="2.1"/>
<circle cx="330.7" cy="494.0" r="2.1"/>
<circle cx="362.0" cy="492.7" r="2.1"/>
<circle cx="366.6" cy="490.9" r="2.1"/>
<circle cx="366.6" cy="495.5" r="2.1"/>
<circle cx="282.6" cy="495.8" r="2.1"/>
<circle cx="284.9" cy="497.0" r="2.1"/>
<circle cx="277.3" cy="497.5" r="2.1"/>
<circle cx="319.0" cy="497.0" r="2.1"/>
<circle cx="333.0" cy="498.5" r="2.1"/>
<circle cx="334.5" cy="500.1" r="2.1"/>
<circle cx="346.8" cy="498.1" r="2.1"/>
<circle cx="290.7" cy="499.3" r="2.1"/>
<circle cx="313.2" cy="500.1" r="2.1"/>
<circle cx="322.3" cy="500.1" r="2.1"/>
<circle cx="355.6" cy="500.8" r="2.1"/>
<circle cx="354.1" cy="502.7" r="2.1"/>
<circle cx="349.0" cy="503.9" r="2.1"/>
<circle cx="279.6" cy="503.4" r="2.1"/>
<circle cx="289.5" cy="505.0" r="2.1"/>
<circle cx="292.3" cy="505.0" r="2.1"/>
<circle cx="313.6" cy="505.0" r="2.1"/>
<circle cx="318.5" cy="505.4" r="2.1"/>
<circle cx="337.9" cy="505.9" r="2.1"/>
<circle cx="367.1" cy="506.2" r="2.1"/>
<circle cx="364.8" cy="507.7" r="2.1"/>
<circle cx="372.7" cy="505.4" r="2.1"/>
<circle cx="374.2" cy="497.5" r="2.1"/>
<circle cx="371.9" cy="498.5" r="2.1"/>
<circle cx="438.4" cy="414.9" r="2.1"/>
<circle cx="386.0" cy="418.4" r="2.1"/>
<circle cx="383.9" cy="421.5" r="2.1"/>
<circle cx="384.9" cy="422.5" r="2.1"/>
<circle cx="404.5" cy="418.4" r="2.1"/>
<circle cx="409.8" cy="421.5" r="2.1"/>
<circle cx="416.7" cy="421.0" r="2.1"/>
<circle cx="378.8" cy="423.4" r="2.1"/>
<circle cx="393.8" cy="425.6" r="2.1"/>
<circle cx="378.1" cy="430.6" r="2.1"/>
<circle cx="386.5" cy="428.6" r="2.1"/>
<circle cx="426.5" cy="429.1" r="2.1"/>
<circle cx="455.2" cy="432.1" r="2.1"/>
<circle cx="396.4" cy="433.7" r="2.1"/>
<circle cx="394.8" cy="435.2" r="2.1"/>
<circle cx="415.0" cy="436.0" r="2.1"/>
<circle cx="420.3" cy="434.4" r="2.1"/>
<circle cx="440.2" cy="434.4" r="2.1"/>
<circle cx="382.6" cy="437.9" r="2.1"/>
<circle cx="383.7" cy="439.5" r="2.1"/>
<circle cx="378.4" cy="441.6" r="2.1"/>
<circle cx="434.5" cy="440.5" r="2.1"/>
<circle cx="451.6" cy="440.8" r="2.1"/>
<circle cx="455.9" cy="440.2" r="2.1"/>
<circle cx="457.1" cy="446.6" r="2.1"/>
<circle cx="387.2" cy="449.7" r="2.1"/>
<circle cx="394.4" cy="451.5" r="2.1"/>
<circle cx="399.7" cy="452.7" r="2.1"/>
<circle cx="425.4" cy="449.7" r="2.1"/>
<circle cx="410.9" cy="454.0" r="2.1"/>
<circle cx="415.0" cy="454.6" r="2.1"/>
<circle cx="416.7" cy="459.3" r="2.1"/>
<circle cx="420.5" cy="460.4" r="2.1"/>
<circle cx="447.1" cy="458.9" r="2.1"/>
<circle cx="429.5" cy="461.9" r="2.1"/>
<circle cx="432.7" cy="463.0" r="2.1"/>
<circle cx="440.2" cy="463.9" r="2.1"/>
<circle cx="398.4" cy="464.7" r="2.1"/>
<circle cx="395.3" cy="466.8" r="2.1"/>
<circle cx="393.0" cy="466.5" r="2.1"/>
<circle cx="391.0" cy="468.0" r="2.1"/>
<circle cx="414.7" cy="466.9" r="2.1"/>
<circle cx="383.7" cy="469.2" r="2.1"/>
<circle cx="379.9" cy="471.8" r="2.1"/>
<circle cx="413.6" cy="471.4" r="2.1"/>
<circle cx="443.7" cy="471.5" r="2.1"/>
<circle cx="423.5" cy="473.4" r="2.1"/>
<circle cx="429.7" cy="474.6" r="2.1"/>
<circle cx="399.7" cy="481.0" r="2.1"/>
<circle cx="391.0" cy="482.1" r="2.1"/>
<circle cx="376.8" cy="483.3" r="2.1"/>
<circle cx="393.0" cy="485.6" r="2.1"/>
<circle cx="394.8" cy="486.8" r="2.1"/>
<circle cx="431.9" cy="485.1" r="2.1"/>
<circle cx="398.4" cy="488.6" r="2.1"/>
<circle cx="397.1" cy="490.5" r="2.1"/>
<circle cx="382.2" cy="489.8" r="2.1"/>
<circle cx="377.3" cy="490.5" r="2.1"/>
<circle cx="375.8" cy="491.7" r="2.1"/>
<circle cx="386.5" cy="492.4" r="2.1"/>
<circle cx="423.4" cy="490.6" r="2.1"/>
<circle cx="405.1" cy="493.5" r="2.1"/>
<circle cx="401.0" cy="497.5" r="2.1"/>
<circle cx="403.5" cy="497.5" r="2.1"/>
<circle cx="383.9" cy="498.2" r="2.1"/>
<circle cx="406.3" cy="501.3" r="2.1"/>
<circle cx="385.4" cy="504.7" r="2.1"/>
<circle cx="389.2" cy="506.2" r="2.1"/>
<circle cx="380.0" cy="506.5" r="2.1"/>
<circle cx="409.8" cy="506.2" r="2.1"/>
<circle cx="395.9" cy="510.0" r="2.1"/>
<circle cx="346.5" cy="510.4" r="2.1"/>
<circle cx="330.9" cy="511.9" r="2.1"/>
<circle cx="288.4" cy="512.9" r="2.1"/>
<circle cx="281.6" cy="514.8" r="2.1"/>
<circle cx="281.1" cy="517.0" r="2.1"/>
<circle cx="291.1" cy="517.0" r="2.1"/>
<circle cx="301.0" cy="515.1" r="2.1"/>
<circle cx="302.7" cy="517.0" r="2.1"/>
<circle cx="364.3" cy="513.8" r="2.1"/>
<circle cx="367.0" cy="511.9" r="2.1"/>
<circle cx="371.4" cy="517.0" r="2.1"/>
<circle cx="368.4" cy="518.5" r="2.1"/>
<circle cx="322.2" cy="518.8" r="2.1"/>
<circle cx="324.2" cy="520.4" r="2.1"/>
<circle cx="298.8" cy="521.1" r="2.1"/>
<circle cx="305.2" cy="520.9" r="2.1"/>
<circle cx="337.3" cy="521.7" r="2.1"/>
<circle cx="315.9" cy="522.4" r="2.1"/>
<circle cx="361.9" cy="523.3" r="2.1"/>
<circle cx="277.2" cy="524.6" r="2.1"/>
<circle cx="281.3" cy="525.8" r="2.1"/>
<circle cx="284.5" cy="523.9" r="2.1"/>
<circle cx="322.9" cy="524.3" r="2.1"/>
<circle cx="329.3" cy="523.9" r="2.1"/>
<circle cx="328.3" cy="525.8" r="2.1"/>
<circle cx="344.1" cy="525.0" r="2.1"/>
<circle cx="358.6" cy="525.5" r="2.1"/>
<circle cx="352.8" cy="527.5" r="2.1"/>
<circle cx="314.9" cy="527.5" r="2.1"/>
<circle cx="284.1" cy="529.7" r="2.1"/>
<circle cx="333.4" cy="529.1" r="2.1"/>
<circle cx="340.3" cy="529.1" r="2.1"/>
<circle cx="350.9" cy="529.4" r="2.1"/>
<circle cx="349.5" cy="530.4" r="2.1"/>
<circle cx="337.8" cy="531.2" r="2.1"/>
<circle cx="322.0" cy="530.6" r="2.1"/>
<circle cx="298.4" cy="530.9" r="2.1"/>
<circle cx="294.0" cy="532.3" r="2.1"/>
<circle cx="372.1" cy="531.3" r="2.1"/>
<circle cx="314.0" cy="533.4" r="2.1"/>
<circle cx="325.8" cy="534.2" r="2.1"/>
<circle cx="330.2" cy="533.8" r="2.1"/>
<circle cx="277.2" cy="536.3" r="2.1"/>
<circle cx="289.6" cy="536.7" r="2.1"/>
<circle cx="295.4" cy="537.0" r="2.1"/>
<circle cx="315.4" cy="537.0" r="2.1"/>
<circle cx="331.6" cy="537.4" r="2.1"/>
<circle cx="337.8" cy="537.0" r="2.1"/>
<circle cx="344.3" cy="536.7" r="2.1"/>
<circle cx="350.9" cy="536.7" r="2.1"/>
<circle cx="375.0" cy="536.7" r="2.1"/>
<circle cx="311.1" cy="538.9" r="2.1"/>
<circle cx="318.4" cy="539.2" r="2.1"/>
<circle cx="341.1" cy="538.9" r="2.1"/>
<circle cx="281.1" cy="540.4" r="2.1"/>
<circle cx="351.6" cy="540.4" r="2.1"/>
<circle cx="373.1" cy="541.4" r="2.1"/>
<circle cx="333.8" cy="542.6" r="2.1"/>
<circle cx="337.0" cy="542.6" r="2.1"/>
<circle cx="326.8" cy="543.3" r="2.1"/>
<circle cx="284.8" cy="543.3" r="2.1"/>
<circle cx="287.4" cy="543.6" r="2.1"/>
<circle cx="280.8" cy="544.7" r="2.1"/>
<circle cx="309.6" cy="544.3" r="2.1"/>
<circle cx="342.2" cy="544.0" r="2.1"/>
<circle cx="344.3" cy="544.0" r="2.1"/>
<circle cx="327.8" cy="545.9" r="2.1"/>
<circle cx="294.0" cy="547.7" r="2.1"/>
<circle cx="313.2" cy="547.7" r="2.1"/>
<circle cx="317.3" cy="548.0" r="2.1"/>
<circle cx="335.3" cy="548.4" r="2.1"/>
<circle cx="363.6" cy="549.9" r="2.1"/>
<circle cx="376.5" cy="515.8" r="2.1"/>
<circle cx="387.1" cy="519.9" r="2.1"/>
<circle cx="389.2" cy="521.7" r="2.1"/>
<circle cx="402.0" cy="520.9" r="2.1"/>
<circle cx="377.5" cy="522.4" r="2.1"/>
<circle cx="390.0" cy="528.7" r="2.1"/>
<circle cx="391.8" cy="530.1" r="2.1"/>
<circle cx="396.5" cy="529.4" r="2.1"/>
<circle cx="384.2" cy="532.6" r="2.1"/>
<circle cx="386.4" cy="533.5" r="2.1"/>
<circle cx="379.4" cy="536.3" r="2.1"/>
<circle cx="377.6" cy="540.4" r="2.1"/>
<circle cx="384.1" cy="541.8" r="2.1"/>
<circle cx="393.5" cy="541.5" r="2.1"/>
<circle cx="377.6" cy="545.5" r="2.1"/>
</g>
</g>
<rect x="137.2" y="14.1" width="536.65" height="536.50" fill="none" stroke="#000" stroke-width="2.05"/>
<text transform="translate(123.70,27.80) scale(0.957,1)" font-size="39.5" text-anchor="end" fill="#000" stroke="#000" stroke-width="0.45">0.2</text>
<text transform="translate(123.70,84.27) scale(0.957,1)" font-size="39.5" text-anchor="end" fill="#000" stroke="#000" stroke-width="0.45">0.18</text>
<text transform="translate(123.70,140.75) scale(0.957,1)" font-size="39.5" text-anchor="end" fill="#000" stroke="#000" stroke-width="0.45">0.16</text>
<text transform="translate(123.70,197.22) scale(0.957,1)" font-size="39.5" text-anchor="end" fill="#000" stroke="#000" stroke-width="0.45">0.14</text>
<text transform="translate(123.70,253.69) scale(0.957,1)" font-size="39.5" text-anchor="end" fill="#000" stroke="#000" stroke-width="0.45">0.12</text>
<text transform="translate(123.70,310.17) scale(0.957,1)" font-size="39.5" text-anchor="end" fill="#000" stroke="#000" stroke-width="0.45">0.1</text>
<text transform="translate(123.70,366.64) scale(0.957,1)" font-size="39.5" text-anchor="end" fill="#000" stroke="#000" stroke-width="0.45">0.08</text>
<text transform="translate(123.70,423.12) scale(0.957,1)" font-size="39.5" text-anchor="end" fill="#000" stroke="#000" stroke-width="0.45">0.06</text>
<text transform="translate(123.70,479.59) scale(0.957,1)" font-size="39.5" text-anchor="end" fill="#000" stroke="#000" stroke-width="0.45">0.04</text>
<text transform="translate(123.70,536.06) scale(0.957,1)" font-size="39.5" text-anchor="end" fill="#000" stroke="#000" stroke-width="0.45">0.02</text>
<text transform="translate(140.80,583.70) scale(0.955,1)" font-size="31" text-anchor="middle" fill="#000" stroke="#000" stroke-width="0.45">0</text>
<text transform="translate(230.24,583.70) scale(0.955,1)" font-size="31" text-anchor="middle" fill="#000" stroke="#000" stroke-width="0.45">0.5</text>
<text transform="translate(319.68,583.70) scale(0.955,1)" font-size="31" text-anchor="middle" fill="#000" stroke="#000" stroke-width="0.45">1</text>
<text transform="translate(409.13,583.70) scale(0.955,1)" font-size="31" text-anchor="middle" fill="#000" stroke="#000" stroke-width="0.45">1.5</text>
<text transform="translate(498.57,583.70) scale(0.955,1)" font-size="31" text-anchor="middle" fill="#000" stroke="#000" stroke-width="0.45">2</text>
<text transform="translate(588.01,583.70) scale(0.955,1)" font-size="31" text-anchor="middle" fill="#000" stroke="#000" stroke-width="0.45">2.5</text>
<text transform="translate(677.45,583.70) scale(0.955,1)" font-size="31" text-anchor="middle" fill="#000" stroke="#000" stroke-width="0.45">3</text>
<text transform="translate(339.20,636.60) scale(1.065,1)" font-size="36" text-anchor="start" fill="#000" stroke="#000" stroke-width="0.45">m</text>
<text transform="translate(369.50,647.60) scale(0.99,1)" font-size="29" text-anchor="start" fill="#000" stroke="#000" stroke-width="0.45">χ</text>
<text transform="translate(385.00,636.60) scale(1.07,1)" font-size="36" text-anchor="start" fill="#000" stroke="#000" stroke-width="0.45">[TeV]</text>
<text transform="translate(39.80,315.20) rotate(-90) scale(1.0,1)" font-size="37.5" text-anchor="start" fill="#000" stroke="#000" stroke-width="0.45">Ω</text>
<text transform="translate(39.80,289.50) rotate(-90) scale(1.12,1)" font-size="37.5" text-anchor="start" fill="#000" stroke="#000" stroke-width="0.45">h</text>
<text transform="translate(21.70,266.30) rotate(-90) scale(0.96,1)" font-size="29.3" text-anchor="start" fill="#000" stroke="#000" stroke-width="0.45">2</text>
<text transform="translate(352.40,84.20) scale(0.96,1)" font-size="39" text-anchor="start" fill="#000" stroke="#000" stroke-width="0.45">PLANCK</text>
<text transform="translate(511.90,68.10) scale(1.0,1)" font-size="30" text-anchor="start" fill="#000" stroke="#000" stroke-width="0.45">+</text>
<text transform="translate(529.50,84.20) scale(0.96,1)" font-size="39" text-anchor="start" fill="#000" stroke="#000" stroke-width="0.45">/- 3σ</text>
<rect x="632.8" y="56.6" width="14.6" height="28.4" fill="#d5eaf2" stroke="#add8e6" stroke-width="1.2"/>
<rect x="486" y="409.3" width="80.8" height="99" fill="#fff" stroke="#000" stroke-width="2.8"/>
<rect x="538.5" y="422.8" width="19.8" height="15.8" fill="#ff0000"/>
<text transform="translate(495.00,435.70) scale(1.07,1)" font-size="22.3" text-anchor="start" fill="#000" stroke="#000" stroke-width="0.45">R</text>
<text transform="translate(511.30,442.50) scale(0.97,1)" font-size="17.8" text-anchor="start" fill="#000" stroke="#000" stroke-width="0.45">1</text>
<rect x="538.5" y="451" width="19.8" height="15.8" fill="#0000ff"/>
<text transform="translate(495.00,463.90) scale(1.07,1)" font-size="22.3" text-anchor="start" fill="#000" stroke="#000" stroke-width="0.45">R</text>
<text transform="translate(511.30,470.70) scale(0.97,1)" font-size="17.8" text-anchor="start" fill="#000" stroke="#000" stroke-width="0.45">2</text>
<rect x="538.5" y="479.2" width="19.8" height="15.8" fill="#000000"/>
<text transform="translate(495.00,492.10) scale(1.07,1)" font-size="22.3" text-anchor="start" fill="#000" stroke="#000" stroke-width="0.45">R</text>
<text transform="translate(511.30,498.90) scale(0.97,1)" font-size="17.8" text-anchor="start" fill="#000" stroke="#000" stroke-width="0.45">3</text>
</svg></body></html>
